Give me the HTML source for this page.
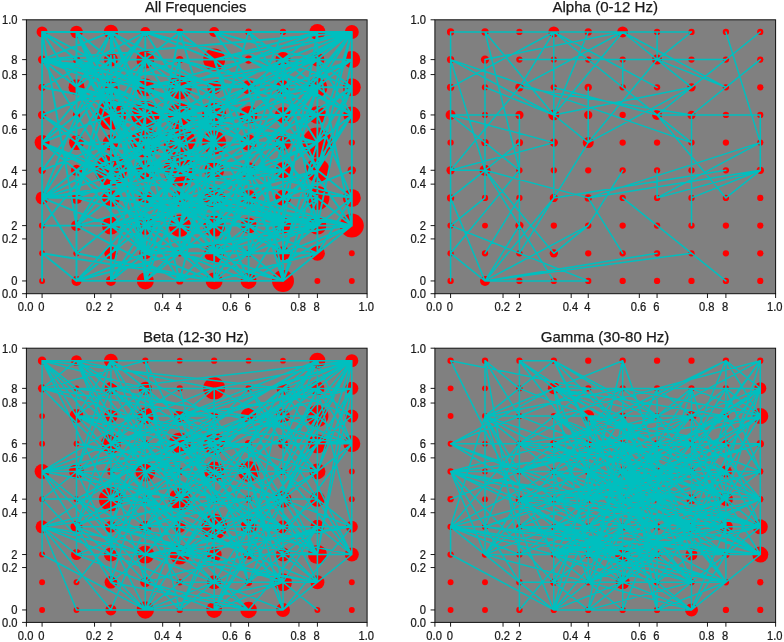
<!DOCTYPE html><html><head><meta charset="utf-8"><style>html,body{margin:0;padding:0;background:#fff;}svg{display:block;filter:blur(0.3px);}text{font-family:"Liberation Sans",sans-serif;fill:#1a1a1a;stroke:#1a1a1a;stroke-width:0.25px;}</style></head><body>
<svg width="784" height="642" viewBox="0 0 784 642">
<rect x="26.40" y="19.80" width="340.70" height="273.90" fill="#808080"/>
<clipPath id="cTL"><rect x="26.40" y="19.80" width="340.70" height="273.90"/></clipPath>
<g clip-path="url(#cTL)">
<circle cx="42.09" cy="31.95" r="5.50" fill="#ff0000"/>
<circle cx="76.50" cy="31.95" r="6.30" fill="#ff0000"/>
<circle cx="110.91" cy="31.95" r="7.20" fill="#ff0000"/>
<circle cx="145.33" cy="31.95" r="5.00" fill="#ff0000"/>
<circle cx="179.74" cy="31.95" r="3.35" fill="#ff0000"/>
<circle cx="214.16" cy="31.95" r="5.00" fill="#ff0000"/>
<circle cx="248.57" cy="31.95" r="3.35" fill="#ff0000"/>
<circle cx="282.99" cy="31.95" r="3.15" fill="#ff0000"/>
<circle cx="317.40" cy="31.95" r="8.00" fill="#ff0000"/>
<circle cx="351.81" cy="31.95" r="7.00" fill="#ff0000"/>
<circle cx="42.09" cy="59.62" r="4.15" fill="#ff0000"/>
<circle cx="76.50" cy="59.62" r="3.65" fill="#ff0000"/>
<circle cx="110.91" cy="59.62" r="7.00" fill="#ff0000"/>
<circle cx="145.33" cy="59.62" r="9.00" fill="#ff0000"/>
<circle cx="179.74" cy="59.62" r="3.65" fill="#ff0000"/>
<circle cx="214.16" cy="59.62" r="11.00" fill="#ff0000"/>
<circle cx="248.57" cy="59.62" r="4.15" fill="#ff0000"/>
<circle cx="282.99" cy="59.62" r="7.50" fill="#ff0000"/>
<circle cx="317.40" cy="59.62" r="7.00" fill="#ff0000"/>
<circle cx="351.81" cy="59.62" r="8.50" fill="#ff0000"/>
<circle cx="42.09" cy="87.28" r="3.65" fill="#ff0000"/>
<circle cx="76.50" cy="87.28" r="8.00" fill="#ff0000"/>
<circle cx="110.91" cy="87.28" r="8.00" fill="#ff0000"/>
<circle cx="145.33" cy="87.28" r="9.00" fill="#ff0000"/>
<circle cx="179.74" cy="87.28" r="12.00" fill="#ff0000"/>
<circle cx="214.16" cy="87.28" r="7.00" fill="#ff0000"/>
<circle cx="248.57" cy="87.28" r="7.00" fill="#ff0000"/>
<circle cx="282.99" cy="87.28" r="7.00" fill="#ff0000"/>
<circle cx="317.40" cy="87.28" r="10.00" fill="#ff0000"/>
<circle cx="351.81" cy="87.28" r="9.00" fill="#ff0000"/>
<circle cx="42.09" cy="114.95" r="4.15" fill="#ff0000"/>
<circle cx="76.50" cy="114.95" r="3.65" fill="#ff0000"/>
<circle cx="110.91" cy="114.95" r="15.00" fill="#ff0000"/>
<circle cx="145.33" cy="114.95" r="14.00" fill="#ff0000"/>
<circle cx="179.74" cy="114.95" r="12.00" fill="#ff0000"/>
<circle cx="214.16" cy="114.95" r="12.00" fill="#ff0000"/>
<circle cx="248.57" cy="114.95" r="9.00" fill="#ff0000"/>
<circle cx="282.99" cy="114.95" r="8.00" fill="#ff0000"/>
<circle cx="317.40" cy="114.95" r="9.00" fill="#ff0000"/>
<circle cx="351.81" cy="114.95" r="8.50" fill="#ff0000"/>
<circle cx="42.09" cy="142.62" r="7.50" fill="#ff0000"/>
<circle cx="76.50" cy="142.62" r="7.50" fill="#ff0000"/>
<circle cx="110.91" cy="142.62" r="8.00" fill="#ff0000"/>
<circle cx="145.33" cy="142.62" r="15.00" fill="#ff0000"/>
<circle cx="179.74" cy="142.62" r="16.00" fill="#ff0000"/>
<circle cx="214.16" cy="142.62" r="12.00" fill="#ff0000"/>
<circle cx="248.57" cy="142.62" r="8.00" fill="#ff0000"/>
<circle cx="282.99" cy="142.62" r="8.00" fill="#ff0000"/>
<circle cx="317.40" cy="142.62" r="15.00" fill="#ff0000"/>
<circle cx="351.81" cy="142.62" r="3.15" fill="#ff0000"/>
<circle cx="42.09" cy="170.28" r="3.65" fill="#ff0000"/>
<circle cx="76.50" cy="170.28" r="5.50" fill="#ff0000"/>
<circle cx="110.91" cy="170.28" r="16.00" fill="#ff0000"/>
<circle cx="145.33" cy="170.28" r="10.00" fill="#ff0000"/>
<circle cx="179.74" cy="170.28" r="16.00" fill="#ff0000"/>
<circle cx="214.16" cy="170.28" r="10.00" fill="#ff0000"/>
<circle cx="248.57" cy="170.28" r="8.00" fill="#ff0000"/>
<circle cx="282.99" cy="170.28" r="8.00" fill="#ff0000"/>
<circle cx="317.40" cy="170.28" r="12.00" fill="#ff0000"/>
<circle cx="351.81" cy="170.28" r="4.15" fill="#ff0000"/>
<circle cx="42.09" cy="197.95" r="6.50" fill="#ff0000"/>
<circle cx="76.50" cy="197.95" r="6.00" fill="#ff0000"/>
<circle cx="110.91" cy="197.95" r="9.00" fill="#ff0000"/>
<circle cx="145.33" cy="197.95" r="7.00" fill="#ff0000"/>
<circle cx="179.74" cy="197.95" r="8.00" fill="#ff0000"/>
<circle cx="214.16" cy="197.95" r="11.00" fill="#ff0000"/>
<circle cx="248.57" cy="197.95" r="8.00" fill="#ff0000"/>
<circle cx="282.99" cy="197.95" r="8.00" fill="#ff0000"/>
<circle cx="317.40" cy="197.95" r="12.00" fill="#ff0000"/>
<circle cx="351.81" cy="197.95" r="9.00" fill="#ff0000"/>
<circle cx="42.09" cy="225.62" r="3.15" fill="#ff0000"/>
<circle cx="76.50" cy="225.62" r="5.50" fill="#ff0000"/>
<circle cx="110.91" cy="225.62" r="9.00" fill="#ff0000"/>
<circle cx="145.33" cy="225.62" r="9.50" fill="#ff0000"/>
<circle cx="179.74" cy="225.62" r="11.00" fill="#ff0000"/>
<circle cx="214.16" cy="225.62" r="11.00" fill="#ff0000"/>
<circle cx="248.57" cy="225.62" r="8.00" fill="#ff0000"/>
<circle cx="282.99" cy="225.62" r="8.00" fill="#ff0000"/>
<circle cx="317.40" cy="225.62" r="9.00" fill="#ff0000"/>
<circle cx="351.81" cy="225.62" r="12.00" fill="#ff0000"/>
<circle cx="42.09" cy="253.28" r="2.95" fill="#ff0000"/>
<circle cx="76.50" cy="253.28" r="3.15" fill="#ff0000"/>
<circle cx="110.91" cy="253.28" r="6.50" fill="#ff0000"/>
<circle cx="145.33" cy="253.28" r="6.00" fill="#ff0000"/>
<circle cx="179.74" cy="253.28" r="3.15" fill="#ff0000"/>
<circle cx="214.16" cy="253.28" r="10.00" fill="#ff0000"/>
<circle cx="248.57" cy="253.28" r="3.65" fill="#ff0000"/>
<circle cx="282.99" cy="253.28" r="7.00" fill="#ff0000"/>
<circle cx="317.40" cy="253.28" r="7.50" fill="#ff0000"/>
<circle cx="351.81" cy="253.28" r="2.95" fill="#ff0000"/>
<circle cx="42.09" cy="280.95" r="2.95" fill="#ff0000"/>
<circle cx="76.50" cy="280.95" r="5.00" fill="#ff0000"/>
<circle cx="110.91" cy="280.95" r="5.00" fill="#ff0000"/>
<circle cx="145.33" cy="280.95" r="8.50" fill="#ff0000"/>
<circle cx="179.74" cy="280.95" r="3.65" fill="#ff0000"/>
<circle cx="214.16" cy="280.95" r="8.50" fill="#ff0000"/>
<circle cx="248.57" cy="280.95" r="8.00" fill="#ff0000"/>
<circle cx="282.99" cy="280.95" r="11.00" fill="#ff0000"/>
<circle cx="317.40" cy="280.95" r="2.95" fill="#ff0000"/>
<circle cx="351.81" cy="280.95" r="2.95" fill="#ff0000"/>
<path d="M145.3 197.9L179.7 32.0M283.0 225.6L317.4 225.6M179.7 253.3L283.0 280.9M110.9 115.0L145.3 59.6M76.5 59.6L214.2 115.0M283.0 59.6L317.4 32.0M76.5 115.0L145.3 32.0M76.5 87.3L145.3 253.3M317.4 59.6L351.8 32.0M76.5 225.6L179.7 280.9M145.3 225.6L179.7 225.6M76.5 280.9L179.7 197.9M214.2 142.6L248.6 142.6M248.6 142.6L351.8 225.6M283.0 87.3L317.4 115.0M317.4 225.6L317.4 170.3M179.7 142.6L179.7 59.6M145.3 115.0L179.7 115.0M110.9 225.6L248.6 197.9M76.5 87.3L76.5 32.0M317.4 115.0L317.4 59.6M145.3 197.9L145.3 170.3M76.5 225.6L145.3 142.6M76.5 225.6L110.9 197.9M248.6 142.6L283.0 142.6M179.7 170.3L179.7 115.0M214.2 197.9L248.6 170.3M76.5 32.0L145.3 170.3M214.2 115.0L283.0 59.6M179.7 59.6L283.0 87.3M214.2 253.3L317.4 170.3M145.3 280.9L179.7 142.6M110.9 197.9L110.9 87.3M110.9 142.6L145.3 253.3M351.8 115.0L351.8 32.0M145.3 170.3L351.8 197.9M214.2 280.9L214.2 253.3M351.8 87.3L351.8 32.0M317.4 59.6L351.8 87.3M283.0 170.3L317.4 87.3M110.9 59.6L110.9 32.0M248.6 115.0L317.4 87.3M283.0 170.3L283.0 142.6M214.2 170.3L248.6 170.3M42.1 115.0L110.9 87.3M42.1 59.6L248.6 87.3M76.5 87.3L110.9 142.6M145.3 280.9L214.2 225.6M214.2 59.6L248.6 59.6M110.9 197.9L145.3 225.6M42.1 87.3L317.4 142.6M248.6 142.6L317.4 142.6M248.6 170.3L351.8 32.0M179.7 280.9L214.2 142.6M76.5 32.0L351.8 32.0M283.0 253.3L351.8 32.0M110.9 280.9L110.9 253.3M145.3 280.9L179.7 197.9M317.4 225.6L317.4 115.0M179.7 225.6L248.6 253.3M248.6 142.6L351.8 59.6M42.1 197.9L283.0 170.3M283.0 197.9L317.4 87.3M42.1 87.3L145.3 32.0M283.0 197.9L283.0 142.6M110.9 59.6L248.6 59.6M76.5 59.6L214.2 253.3M42.1 142.6L179.7 87.3M145.3 115.0L145.3 87.3M248.6 59.6L351.8 32.0M145.3 170.3L351.8 32.0M76.5 87.3L145.3 142.6M42.1 59.6L248.6 142.6M214.2 142.6L248.6 32.0M283.0 253.3L317.4 170.3M42.1 225.6L110.9 142.6M214.2 142.6L214.2 87.3M283.0 87.3L283.0 59.6M110.9 225.6L179.7 225.6M248.6 115.0L351.8 59.6M145.3 197.9L248.6 197.9M42.1 142.6L214.2 280.9M248.6 225.6L317.4 253.3M145.3 142.6L145.3 32.0M214.2 225.6L317.4 225.6M214.2 115.0L214.2 87.3M214.2 225.6L283.0 280.9M76.5 197.9L110.9 59.6M145.3 170.3L145.3 115.0M42.1 280.9L42.1 32.0M283.0 280.9L317.4 253.3M145.3 253.3L351.8 170.3M214.2 253.3L283.0 225.6M76.5 197.9L179.7 225.6M179.7 142.6L214.2 142.6M214.2 32.0L283.0 32.0M42.1 32.0L248.6 142.6M214.2 59.6L248.6 170.3M145.3 142.6L248.6 115.0M42.1 197.9L248.6 197.9M76.5 280.9L179.7 253.3M214.2 59.6L317.4 32.0M42.1 115.0L179.7 197.9M317.4 142.6L317.4 87.3M179.7 253.3L214.2 253.3M179.7 115.0L317.4 59.6M76.5 170.3L145.3 253.3M42.1 32.0L76.5 32.0M110.9 253.3L179.7 170.3M145.3 253.3L351.8 225.6M76.5 253.3L214.2 280.9M179.7 225.6L214.2 253.3M317.4 170.3L351.8 197.9M145.3 142.6L179.7 142.6M248.6 197.9L317.4 170.3M110.9 225.6L214.2 197.9M76.5 87.3L110.9 32.0M110.9 225.6L145.3 253.3M214.2 197.9L248.6 225.6M214.2 253.3L317.4 225.6M248.6 280.9L248.6 225.6M179.7 87.3L317.4 59.6M145.3 59.6L214.2 87.3M214.2 197.9L317.4 87.3M110.9 170.3L214.2 115.0M110.9 170.3L145.3 170.3M110.9 32.0L145.3 280.9M110.9 59.6L145.3 59.6M110.9 142.6L110.9 32.0M248.6 170.3L283.0 225.6M145.3 59.6L179.7 59.6M283.0 115.0L351.8 32.0M76.5 32.0L110.9 59.6M214.2 225.6L248.6 253.3M145.3 225.6L145.3 197.9M214.2 253.3L283.0 59.6M42.1 59.6L145.3 142.6M214.2 170.3L283.0 142.6M317.4 170.3L351.8 32.0M179.7 115.0L179.7 59.6M145.3 253.3L283.0 197.9M179.7 32.0L214.2 59.6M248.6 253.3L283.0 142.6M110.9 87.3L214.2 142.6M110.9 32.0L145.3 59.6M283.0 115.0L317.4 170.3M214.2 280.9L317.4 197.9M76.5 280.9L110.9 280.9M179.7 115.0L214.2 253.3M42.1 253.3L214.2 280.9M110.9 253.3L110.9 197.9M42.1 197.9L214.2 142.6M179.7 253.3L179.7 225.6M145.3 59.6L179.7 115.0M145.3 225.6L317.4 142.6M351.8 225.6L351.8 32.0M42.1 142.6L110.9 59.6M317.4 170.3L351.8 87.3M179.7 225.6L214.2 142.6M283.0 197.9L317.4 225.6M145.3 225.6L351.8 59.6M214.2 225.6L351.8 225.6M145.3 197.9L214.2 197.9M110.9 142.6L248.6 115.0M317.4 253.3L351.8 225.6M110.9 225.6L110.9 197.9M110.9 142.6L145.3 225.6M110.9 87.3L145.3 253.3M214.2 225.6L248.6 197.9M214.2 280.9L317.4 253.3M179.7 170.3L248.6 225.6M179.7 59.6L317.4 115.0M248.6 87.3L317.4 87.3M42.1 225.6L145.3 225.6M283.0 253.3L283.0 59.6M145.3 142.6L351.8 197.9M145.3 142.6L214.2 115.0M110.9 87.3L179.7 170.3M145.3 170.3L248.6 142.6M179.7 197.9L317.4 225.6M179.7 197.9L283.0 280.9M179.7 170.3L283.0 142.6M214.2 59.6L351.8 32.0M42.1 59.6L317.4 142.6M76.5 280.9L76.5 197.9M351.8 225.6L351.8 87.3M42.1 142.6L145.3 59.6M317.4 225.6L351.8 225.6M179.7 253.3L214.2 197.9M42.1 142.6L110.9 115.0M214.2 170.3L248.6 115.0M179.7 225.6L214.2 197.9M317.4 115.0L351.8 115.0M145.3 142.6L179.7 87.3M42.1 59.6L351.8 59.6M110.9 225.6L145.3 197.9M214.2 197.9L283.0 225.6M42.1 59.6L110.9 87.3M76.5 280.9L283.0 280.9M283.0 59.6L317.4 225.6M214.2 280.9L248.6 225.6M317.4 59.6L351.8 225.6M248.6 197.9L248.6 142.6M317.4 32.0L351.8 32.0M248.6 280.9L283.0 225.6M214.2 32.0L351.8 32.0M42.1 142.6L110.9 170.3M145.3 253.3L179.7 197.9M317.4 253.3L317.4 142.6M145.3 225.6L248.6 170.3M145.3 225.6L214.2 225.6M214.2 253.3L248.6 197.9M317.4 87.3L351.8 115.0M179.7 115.0L248.6 87.3M283.0 142.6L317.4 142.6M179.7 115.0L214.2 142.6M179.7 253.3L283.0 253.3M42.1 32.0L145.3 32.0M42.1 32.0L110.9 87.3M145.3 87.3L248.6 59.6M248.6 59.6L351.8 115.0M214.2 59.6L283.0 115.0M283.0 253.3L317.4 253.3M214.2 197.9L317.4 225.6M42.1 59.6L145.3 87.3M145.3 142.6L145.3 115.0M179.7 87.3L248.6 87.3M179.7 87.3L214.2 142.6M110.9 170.3L110.9 59.6M110.9 32.0L145.3 115.0M283.0 280.9L317.4 197.9M283.0 280.9L283.0 253.3M317.4 225.6L351.8 59.6M76.5 32.0L145.3 142.6M179.7 170.3L248.6 115.0M76.5 87.3L145.3 170.3M214.2 142.6L214.2 115.0M110.9 197.9L110.9 59.6M145.3 197.9L351.8 225.6M317.4 115.0L317.4 87.3M110.9 197.9L283.0 225.6M179.7 197.9L283.0 170.3M76.5 142.6L110.9 170.3M145.3 280.9L283.0 280.9M248.6 253.3L283.0 280.9M283.0 59.6L317.4 59.6M42.1 197.9L145.3 142.6M145.3 170.3L145.3 142.6M42.1 197.9L110.9 197.9M283.0 253.3L351.8 225.6M179.7 170.3L179.7 142.6M42.1 142.6L42.1 59.6M283.0 115.0L283.0 59.6M179.7 225.6L214.2 87.3M76.5 253.3L110.9 225.6M145.3 253.3L145.3 170.3M110.9 170.3L145.3 59.6M110.9 170.3L110.9 115.0M145.3 170.3L179.7 59.6M145.3 87.3L248.6 170.3M248.6 142.6L317.4 115.0M76.5 32.0L145.3 197.9M76.5 115.0L110.9 170.3M42.1 59.6L42.1 32.0M214.2 225.6L214.2 197.9M248.6 87.3L317.4 32.0M283.0 225.6L351.8 225.6M248.6 87.3L283.0 87.3M145.3 197.9L179.7 115.0M76.5 197.9L214.2 142.6M145.3 87.3L283.0 87.3M110.9 197.9L110.9 115.0M110.9 87.3L110.9 32.0M110.9 142.6L179.7 87.3M248.6 59.6L317.4 87.3M145.3 225.6L214.2 115.0M283.0 59.6L351.8 32.0M214.2 253.3L214.2 142.6M42.1 197.9L76.5 115.0M317.4 142.6L351.8 32.0M248.6 115.0L283.0 32.0M145.3 253.3L214.2 280.9M145.3 115.0L145.3 59.6M214.2 115.0L283.0 142.6M248.6 197.9L351.8 225.6M179.7 197.9L248.6 197.9M42.1 142.6L42.1 115.0M248.6 280.9L248.6 253.3M179.7 197.9L351.8 87.3M179.7 87.3L283.0 253.3M110.9 280.9L145.3 225.6M76.5 87.3L145.3 115.0M42.1 197.9L110.9 32.0M110.9 197.9L145.3 253.3M42.1 170.3L179.7 115.0M214.2 280.9L248.6 170.3M179.7 170.3L317.4 225.6M145.3 253.3L179.7 253.3M42.1 32.0L76.5 225.6M248.6 115.0L283.0 225.6M42.1 142.6L145.3 197.9M76.5 142.6L283.0 170.3M145.3 225.6L214.2 280.9M179.7 225.6L248.6 280.9M76.5 32.0L145.3 32.0M145.3 142.6L179.7 225.6M283.0 59.6L351.8 87.3M214.2 59.6L248.6 142.6M42.1 197.9L76.5 170.3M76.5 115.0L76.5 87.3M317.4 142.6L351.8 87.3M283.0 225.6L283.0 197.9M110.9 142.6L145.3 115.0M214.2 170.3L283.0 170.3M110.9 280.9L145.3 280.9M76.5 170.3L110.9 142.6M76.5 225.6L179.7 197.9M42.1 197.9L42.1 142.6M214.2 197.9L317.4 170.3M248.6 32.0L317.4 142.6M145.3 142.6L145.3 59.6M145.3 115.0L214.2 115.0M110.9 280.9L179.7 197.9M110.9 115.0L110.9 87.3M110.9 87.3L179.7 142.6M42.1 197.9L214.2 170.3M76.5 32.0L145.3 87.3M179.7 115.0L317.4 87.3M283.0 87.3L317.4 87.3M214.2 142.6L248.6 115.0M145.3 197.9L214.2 225.6M317.4 59.6L351.8 115.0M76.5 225.6L110.9 170.3M317.4 142.6L317.4 115.0M283.0 170.3L283.0 59.6M179.7 197.9L214.2 142.6M145.3 253.3L145.3 225.6M145.3 142.6L179.7 170.3M179.7 142.6L214.2 115.0M76.5 87.3L110.9 59.6M145.3 197.9L179.7 197.9M110.9 32.0L179.7 170.3M42.1 59.6L110.9 32.0M317.4 87.3L317.4 32.0M214.2 225.6L317.4 87.3M145.3 253.3L179.7 142.6M214.2 32.0L317.4 59.6M283.0 87.3L317.4 142.6M179.7 142.6L179.7 87.3M179.7 225.6L214.2 225.6M110.9 115.0L214.2 225.6M76.5 225.6L214.2 115.0M110.9 170.3L145.3 197.9M145.3 170.3L179.7 197.9M283.0 87.3L351.8 59.6M42.1 32.0L110.9 32.0M283.0 225.6L317.4 32.0M110.9 115.0L317.4 32.0M145.3 59.6L248.6 115.0M145.3 32.0L248.6 59.6M317.4 225.6L317.4 87.3M110.9 197.9L145.3 197.9M179.7 59.6L248.6 87.3M214.2 142.6L317.4 225.6M76.5 32.0L214.2 32.0M179.7 87.3L248.6 59.6M145.3 170.3L283.0 253.3M145.3 142.6L179.7 280.9M110.9 197.9L179.7 115.0M110.9 225.6L248.6 280.9M76.5 87.3L110.9 170.3M76.5 280.9L145.3 253.3M317.4 115.0L351.8 197.9M145.3 253.3L145.3 59.6M283.0 142.6L351.8 87.3M214.2 170.3L283.0 225.6M145.3 253.3L317.4 225.6M110.9 142.6L145.3 59.6M179.7 32.0L214.2 142.6M214.2 32.0L351.8 225.6M179.7 87.3L248.6 115.0M110.9 32.0L214.2 87.3M179.7 170.3L283.0 115.0M76.5 280.9L179.7 170.3M248.6 142.6L283.0 115.0M145.3 225.6L283.0 280.9M110.9 32.0L351.8 225.6M76.5 197.9L76.5 170.3M42.1 32.0L283.0 32.0M42.1 197.9L110.9 225.6M179.7 115.0L283.0 87.3M110.9 280.9L145.3 115.0M145.3 142.6L214.2 253.3M110.9 142.6L283.0 59.6M110.9 170.3L248.6 87.3M42.1 115.0L76.5 142.6M283.0 115.0L283.0 87.3M76.5 197.9L110.9 87.3M145.3 32.0L317.4 32.0M283.0 142.6L317.4 115.0M110.9 115.0L145.3 170.3M76.5 170.3L179.7 142.6M317.4 142.6L351.8 115.0M145.3 142.6L283.0 115.0M248.6 115.0L283.0 115.0M317.4 170.3L317.4 32.0M110.9 197.9L248.6 87.3M110.9 197.9L214.2 142.6M179.7 197.9L214.2 87.3M179.7 87.3L317.4 32.0M110.9 115.0L179.7 87.3M42.1 59.6L145.3 59.6M179.7 170.3L283.0 225.6M317.4 87.3L351.8 32.0M214.2 225.6L283.0 87.3M145.3 59.6L179.7 32.0M179.7 225.6L248.6 225.6M145.3 253.3L248.6 253.3M76.5 32.0L110.9 32.0M179.7 280.9L317.4 225.6M351.8 87.3L351.8 59.6M214.2 142.6L351.8 32.0M283.0 225.6L283.0 142.6M42.1 59.6L110.9 170.3M214.2 115.0L351.8 32.0M248.6 170.3L317.4 142.6M76.5 142.6L110.9 142.6M248.6 87.3L283.0 280.9M145.3 87.3L145.3 59.6M110.9 32.0L145.3 32.0M110.9 225.6L179.7 197.9M317.4 253.3L317.4 225.6M248.6 32.0L317.4 87.3M317.4 170.3L351.8 115.0M283.0 142.6L317.4 225.6M317.4 87.3L351.8 87.3M248.6 253.3L351.8 115.0M214.2 253.3L214.2 225.6M110.9 115.0L145.3 115.0M179.7 115.0L214.2 115.0M110.9 59.6L145.3 87.3M145.3 87.3L214.2 197.9M179.7 197.9L248.6 280.9M76.5 197.9L179.7 197.9M145.3 225.6L179.7 280.9M317.4 59.6L317.4 32.0M179.7 170.3L248.6 142.6M179.7 115.0L179.7 87.3M76.5 142.6L145.3 142.6M248.6 253.3L317.4 253.3M76.5 142.6L110.9 197.9M179.7 87.3L214.2 115.0M42.1 170.3L145.3 32.0M76.5 87.3L179.7 115.0M214.2 197.9L351.8 225.6M42.1 59.6L179.7 87.3M145.3 32.0L179.7 87.3M248.6 225.6L248.6 197.9M283.0 280.9L317.4 170.3M248.6 197.9L317.4 142.6M248.6 280.9L351.8 225.6M145.3 280.9L145.3 142.6M110.9 197.9L110.9 142.6M76.5 142.6L214.2 280.9M317.4 253.3L351.8 197.9M145.3 170.3L214.2 170.3M179.7 253.3L214.2 170.3M248.6 87.3L317.4 59.6M145.3 59.6L214.2 59.6M42.1 253.3L76.5 280.9M145.3 225.6L248.6 197.9M42.1 32.0L76.5 87.3M145.3 87.3L317.4 59.6M179.7 225.6L214.2 170.3M110.9 170.3L214.2 87.3M110.9 142.6L179.7 115.0M76.5 142.6L76.5 115.0M110.9 32.0L317.4 32.0M145.3 280.9L214.2 280.9M179.7 280.9L283.0 170.3M42.1 197.9L76.5 142.6M42.1 59.6L351.8 32.0M76.5 170.3L179.7 87.3M317.4 170.3L317.4 87.3M317.4 225.6L351.8 197.9M214.2 197.9L248.6 280.9M248.6 197.9L248.6 115.0M110.9 280.9L214.2 197.9M76.5 225.6L283.0 59.6M145.3 280.9L283.0 142.6M76.5 59.6L110.9 115.0M110.9 115.0L179.7 142.6M283.0 87.3L317.4 170.3M145.3 32.0L214.2 59.6M214.2 32.0L351.8 115.0M248.6 87.3L351.8 32.0M283.0 170.3L317.4 197.9M110.9 115.0L110.9 59.6M248.6 115.0L317.4 197.9M145.3 142.6L283.0 253.3M145.3 197.9L317.4 225.6M248.6 170.3L283.0 280.9M110.9 197.9L248.6 225.6M110.9 197.9L214.2 280.9M283.0 253.3L317.4 225.6M42.1 32.0L145.3 115.0M248.6 115.0L351.8 115.0M248.6 225.6L283.0 225.6M42.1 142.6L214.2 225.6M42.1 115.0L179.7 59.6M76.5 142.6L145.3 32.0M145.3 280.9L317.4 142.6M76.5 142.6L110.9 87.3M110.9 170.3L248.6 280.9M317.4 253.3L317.4 170.3M42.1 197.9L42.1 170.3M110.9 142.6L179.7 225.6M283.0 197.9L317.4 197.9M42.1 197.9L76.5 253.3M42.1 32.0L248.6 197.9" stroke="#00bfbf" stroke-width="1.9" fill="none" stroke-linecap="round"/>
</g>
<rect x="26.40" y="19.80" width="340.70" height="273.90" fill="none" stroke="#111" stroke-width="1.0"/>
<path d="M26.40 293.70v4.3M26.40 293.70h-4.3M94.54 293.70v4.3M26.40 238.92h-4.3M162.68 293.70v4.3M26.40 184.14h-4.3M230.82 293.70v4.3M26.40 129.36h-4.3M298.96 293.70v4.3M26.40 74.58h-4.3M367.10 293.70v4.3M26.40 19.80h-4.3M42.09 293.70v4.3M26.40 280.95h-4.3M110.91 293.70v4.3M26.40 225.62h-4.3M179.74 293.70v4.3M26.40 170.28h-4.3M248.57 293.70v4.3M26.40 114.95h-4.3M317.40 293.70v4.3M26.40 59.62h-4.3" stroke="#000" stroke-width="0.9"/>
<text transform="translate(25.60,311.00) scale(0.93,1)" font-size="12.0" text-anchor="middle">0.0</text>
<text transform="translate(17.50,298.00) scale(0.93,1)" font-size="12.0" text-anchor="end">0.0</text>
<text transform="translate(93.74,311.00) scale(0.93,1)" font-size="12.0" text-anchor="middle">0.2</text>
<text transform="translate(17.50,243.22) scale(0.93,1)" font-size="12.0" text-anchor="end">0.2</text>
<text transform="translate(161.88,311.00) scale(0.93,1)" font-size="12.0" text-anchor="middle">0.4</text>
<text transform="translate(17.50,188.44) scale(0.93,1)" font-size="12.0" text-anchor="end">0.4</text>
<text transform="translate(230.02,311.00) scale(0.93,1)" font-size="12.0" text-anchor="middle">0.6</text>
<text transform="translate(17.50,133.66) scale(0.93,1)" font-size="12.0" text-anchor="end">0.6</text>
<text transform="translate(298.16,311.00) scale(0.93,1)" font-size="12.0" text-anchor="middle">0.8</text>
<text transform="translate(17.50,78.88) scale(0.93,1)" font-size="12.0" text-anchor="end">0.8</text>
<text transform="translate(366.30,311.00) scale(0.93,1)" font-size="12.0" text-anchor="middle">1.0</text>
<text transform="translate(17.50,24.10) scale(0.93,1)" font-size="12.0" text-anchor="end">1.0</text>
<text transform="translate(41.29,311.00) scale(0.93,1)" font-size="12.0" text-anchor="middle">0</text>
<text transform="translate(17.50,285.25) scale(0.93,1)" font-size="12.0" text-anchor="end">0</text>
<text transform="translate(110.11,311.00) scale(0.93,1)" font-size="12.0" text-anchor="middle">2</text>
<text transform="translate(17.50,229.92) scale(0.93,1)" font-size="12.0" text-anchor="end">2</text>
<text transform="translate(178.94,311.00) scale(0.93,1)" font-size="12.0" text-anchor="middle">4</text>
<text transform="translate(17.50,174.58) scale(0.93,1)" font-size="12.0" text-anchor="end">4</text>
<text transform="translate(247.77,311.00) scale(0.93,1)" font-size="12.0" text-anchor="middle">6</text>
<text transform="translate(17.50,119.25) scale(0.93,1)" font-size="12.0" text-anchor="end">6</text>
<text transform="translate(316.60,311.00) scale(0.93,1)" font-size="12.0" text-anchor="middle">8</text>
<text transform="translate(17.50,63.92) scale(0.93,1)" font-size="12.0" text-anchor="end">8</text>
<text x="195.65" y="11.50" font-size="14.7" text-anchor="middle" textLength="101.5" lengthAdjust="spacingAndGlyphs">All Frequencies</text>
<rect x="434.90" y="19.80" width="340.70" height="273.90" fill="#808080"/>
<clipPath id="cTR"><rect x="434.90" y="19.80" width="340.70" height="273.90"/></clipPath>
<g clip-path="url(#cTR)">
<circle cx="450.59" cy="31.95" r="3.65" fill="#ff0000"/>
<circle cx="485.00" cy="31.95" r="3.65" fill="#ff0000"/>
<circle cx="519.41" cy="31.95" r="3.15" fill="#ff0000"/>
<circle cx="553.83" cy="31.95" r="5.50" fill="#ff0000"/>
<circle cx="588.24" cy="31.95" r="3.65" fill="#ff0000"/>
<circle cx="622.66" cy="31.95" r="5.50" fill="#ff0000"/>
<circle cx="657.07" cy="31.95" r="3.15" fill="#ff0000"/>
<circle cx="691.49" cy="31.95" r="3.15" fill="#ff0000"/>
<circle cx="725.90" cy="31.95" r="3.15" fill="#ff0000"/>
<circle cx="760.31" cy="31.95" r="3.15" fill="#ff0000"/>
<circle cx="450.59" cy="59.62" r="3.65" fill="#ff0000"/>
<circle cx="485.00" cy="59.62" r="4.15" fill="#ff0000"/>
<circle cx="519.41" cy="59.62" r="3.15" fill="#ff0000"/>
<circle cx="553.83" cy="59.62" r="3.15" fill="#ff0000"/>
<circle cx="588.24" cy="59.62" r="3.15" fill="#ff0000"/>
<circle cx="622.66" cy="59.62" r="3.15" fill="#ff0000"/>
<circle cx="657.07" cy="59.62" r="5.00" fill="#ff0000"/>
<circle cx="691.49" cy="59.62" r="3.15" fill="#ff0000"/>
<circle cx="725.90" cy="59.62" r="3.15" fill="#ff0000"/>
<circle cx="760.31" cy="59.62" r="3.15" fill="#ff0000"/>
<circle cx="450.59" cy="87.28" r="3.65" fill="#ff0000"/>
<circle cx="485.00" cy="87.28" r="3.15" fill="#ff0000"/>
<circle cx="519.41" cy="87.28" r="4.15" fill="#ff0000"/>
<circle cx="553.83" cy="87.28" r="3.15" fill="#ff0000"/>
<circle cx="588.24" cy="87.28" r="3.65" fill="#ff0000"/>
<circle cx="622.66" cy="87.28" r="3.15" fill="#ff0000"/>
<circle cx="657.07" cy="87.28" r="3.15" fill="#ff0000"/>
<circle cx="691.49" cy="87.28" r="4.15" fill="#ff0000"/>
<circle cx="725.90" cy="87.28" r="3.15" fill="#ff0000"/>
<circle cx="760.31" cy="87.28" r="3.15" fill="#ff0000"/>
<circle cx="450.59" cy="114.95" r="5.00" fill="#ff0000"/>
<circle cx="485.00" cy="114.95" r="3.15" fill="#ff0000"/>
<circle cx="519.41" cy="114.95" r="4.15" fill="#ff0000"/>
<circle cx="553.83" cy="114.95" r="5.50" fill="#ff0000"/>
<circle cx="588.24" cy="114.95" r="4.15" fill="#ff0000"/>
<circle cx="622.66" cy="114.95" r="3.15" fill="#ff0000"/>
<circle cx="657.07" cy="114.95" r="5.00" fill="#ff0000"/>
<circle cx="691.49" cy="114.95" r="4.15" fill="#ff0000"/>
<circle cx="725.90" cy="114.95" r="3.15" fill="#ff0000"/>
<circle cx="760.31" cy="114.95" r="3.15" fill="#ff0000"/>
<circle cx="450.59" cy="142.62" r="3.15" fill="#ff0000"/>
<circle cx="485.00" cy="142.62" r="3.65" fill="#ff0000"/>
<circle cx="519.41" cy="142.62" r="3.65" fill="#ff0000"/>
<circle cx="553.83" cy="142.62" r="4.15" fill="#ff0000"/>
<circle cx="588.24" cy="142.62" r="5.50" fill="#ff0000"/>
<circle cx="622.66" cy="142.62" r="3.15" fill="#ff0000"/>
<circle cx="657.07" cy="142.62" r="3.15" fill="#ff0000"/>
<circle cx="691.49" cy="142.62" r="3.15" fill="#ff0000"/>
<circle cx="725.90" cy="142.62" r="3.15" fill="#ff0000"/>
<circle cx="760.31" cy="142.62" r="3.15" fill="#ff0000"/>
<circle cx="450.59" cy="170.28" r="4.15" fill="#ff0000"/>
<circle cx="485.00" cy="170.28" r="5.50" fill="#ff0000"/>
<circle cx="519.41" cy="170.28" r="3.15" fill="#ff0000"/>
<circle cx="553.83" cy="170.28" r="3.15" fill="#ff0000"/>
<circle cx="588.24" cy="170.28" r="3.15" fill="#ff0000"/>
<circle cx="622.66" cy="170.28" r="3.15" fill="#ff0000"/>
<circle cx="657.07" cy="170.28" r="3.15" fill="#ff0000"/>
<circle cx="691.49" cy="170.28" r="3.15" fill="#ff0000"/>
<circle cx="725.90" cy="170.28" r="3.15" fill="#ff0000"/>
<circle cx="760.31" cy="170.28" r="3.65" fill="#ff0000"/>
<circle cx="450.59" cy="197.95" r="3.65" fill="#ff0000"/>
<circle cx="485.00" cy="197.95" r="3.15" fill="#ff0000"/>
<circle cx="519.41" cy="197.95" r="3.15" fill="#ff0000"/>
<circle cx="553.83" cy="197.95" r="4.15" fill="#ff0000"/>
<circle cx="588.24" cy="197.95" r="3.65" fill="#ff0000"/>
<circle cx="622.66" cy="197.95" r="3.15" fill="#ff0000"/>
<circle cx="657.07" cy="197.95" r="3.15" fill="#ff0000"/>
<circle cx="691.49" cy="197.95" r="3.15" fill="#ff0000"/>
<circle cx="725.90" cy="197.95" r="3.15" fill="#ff0000"/>
<circle cx="760.31" cy="197.95" r="3.15" fill="#ff0000"/>
<circle cx="450.59" cy="225.62" r="3.15" fill="#ff0000"/>
<circle cx="485.00" cy="225.62" r="2.95" fill="#ff0000"/>
<circle cx="519.41" cy="225.62" r="4.15" fill="#ff0000"/>
<circle cx="553.83" cy="225.62" r="3.15" fill="#ff0000"/>
<circle cx="588.24" cy="225.62" r="3.15" fill="#ff0000"/>
<circle cx="622.66" cy="225.62" r="3.15" fill="#ff0000"/>
<circle cx="657.07" cy="225.62" r="3.15" fill="#ff0000"/>
<circle cx="691.49" cy="225.62" r="3.15" fill="#ff0000"/>
<circle cx="725.90" cy="225.62" r="3.15" fill="#ff0000"/>
<circle cx="760.31" cy="225.62" r="3.15" fill="#ff0000"/>
<circle cx="450.59" cy="253.28" r="3.15" fill="#ff0000"/>
<circle cx="485.00" cy="253.28" r="3.15" fill="#ff0000"/>
<circle cx="519.41" cy="253.28" r="3.15" fill="#ff0000"/>
<circle cx="553.83" cy="253.28" r="4.15" fill="#ff0000"/>
<circle cx="588.24" cy="253.28" r="3.15" fill="#ff0000"/>
<circle cx="622.66" cy="253.28" r="3.15" fill="#ff0000"/>
<circle cx="657.07" cy="253.28" r="3.15" fill="#ff0000"/>
<circle cx="691.49" cy="253.28" r="3.15" fill="#ff0000"/>
<circle cx="725.90" cy="253.28" r="3.15" fill="#ff0000"/>
<circle cx="760.31" cy="253.28" r="3.15" fill="#ff0000"/>
<circle cx="450.59" cy="280.95" r="3.15" fill="#ff0000"/>
<circle cx="485.00" cy="280.95" r="5.00" fill="#ff0000"/>
<circle cx="519.41" cy="280.95" r="3.15" fill="#ff0000"/>
<circle cx="553.83" cy="280.95" r="3.15" fill="#ff0000"/>
<circle cx="588.24" cy="280.95" r="3.15" fill="#ff0000"/>
<circle cx="622.66" cy="280.95" r="3.15" fill="#ff0000"/>
<circle cx="657.07" cy="280.95" r="3.15" fill="#ff0000"/>
<circle cx="691.49" cy="280.95" r="3.15" fill="#ff0000"/>
<circle cx="725.90" cy="280.95" r="3.15" fill="#ff0000"/>
<circle cx="760.31" cy="280.95" r="3.15" fill="#ff0000"/>
<path d="M450.6 32.0L553.8 32.0M553.8 32.0L588.2 32.0M588.2 32.0L691.5 32.0M450.6 32.0L450.6 280.9M485.0 32.0L519.4 170.3M485.0 32.0L553.8 115.0M450.6 59.6L553.8 115.0M450.6 59.6L485.0 170.3M450.6 87.3L553.8 32.0M485.0 59.6L622.7 32.0M485.0 59.6L485.0 197.9M519.4 59.6L725.9 59.6M450.6 115.0L519.4 115.0M450.6 115.0L553.8 142.6M450.6 115.0L519.4 170.3M485.0 87.3L553.8 115.0M519.4 87.3L553.8 32.0M519.4 87.3L450.6 170.3M450.6 170.3L485.0 170.3M450.6 170.3L553.8 142.6M485.0 170.3L450.6 197.9M485.0 170.3L553.8 253.3M485.0 170.3L588.2 197.9M485.0 170.3L553.8 280.9M450.6 197.9L485.0 280.9M450.6 197.9L519.4 142.6M450.6 225.6L485.0 197.9M450.6 225.6L588.2 280.9M450.6 253.3L485.0 280.9M450.6 253.3L519.4 170.3M485.0 253.3L519.4 197.9M485.0 280.9L588.2 280.9M485.0 280.9L553.8 197.9M485.0 280.9L588.2 225.6M485.0 280.9L657.1 253.3M485.0 280.9L691.5 253.3M485.0 280.9L519.4 225.6M519.4 115.0L519.4 253.3M553.8 32.0L553.8 197.9M553.8 32.0L657.1 87.3M553.8 32.0L691.5 142.6M588.2 32.0L553.8 115.0M622.7 32.0L519.4 87.3M622.7 32.0L691.5 87.3M622.7 32.0L725.9 87.3M622.7 32.0L553.8 115.0M657.1 32.0L657.1 59.6M691.5 32.0L657.1 59.6M657.1 59.6L588.2 142.6M657.1 59.6L725.9 87.3M622.7 59.6L622.7 87.3M588.2 87.3L588.2 142.6M553.8 115.0L691.5 87.3M691.5 87.3L588.2 142.6M691.5 87.3L657.1 115.0M553.8 87.3L657.1 115.0M519.4 87.3L691.5 115.0M760.3 32.0L691.5 87.3M760.3 59.6L691.5 115.0M725.9 32.0L760.3 142.6M657.1 115.0L760.3 115.0M760.3 115.0L760.3 170.3M691.5 115.0L691.5 225.6M657.1 170.3L657.1 197.9M760.3 170.3L725.9 197.9M760.3 170.3L691.5 197.9M760.3 142.6L657.1 197.9M760.3 142.6L588.2 197.9M588.2 197.9L760.3 170.3M725.9 170.3L553.8 197.9M725.9 197.9L657.1 115.0M450.6 59.6L691.5 142.6M622.7 170.3L588.2 225.6M622.7 197.9L725.9 280.9M588.2 197.9L622.7 253.3M553.8 253.3L588.2 225.6M588.2 142.6L519.4 253.3M553.8 115.0L588.2 142.6M657.1 197.9L760.3 170.3" stroke="#00bfbf" stroke-width="1.5" fill="none" stroke-linecap="round"/>
</g>
<rect x="434.90" y="19.80" width="340.70" height="273.90" fill="none" stroke="#111" stroke-width="1.0"/>
<path d="M434.90 293.70v4.3M434.90 293.70h-4.3M503.04 293.70v4.3M434.90 238.92h-4.3M571.18 293.70v4.3M434.90 184.14h-4.3M639.32 293.70v4.3M434.90 129.36h-4.3M707.46 293.70v4.3M434.90 74.58h-4.3M775.60 293.70v4.3M434.90 19.80h-4.3M450.59 293.70v4.3M434.90 280.95h-4.3M519.41 293.70v4.3M434.90 225.62h-4.3M588.24 293.70v4.3M434.90 170.28h-4.3M657.07 293.70v4.3M434.90 114.95h-4.3M725.90 293.70v4.3M434.90 59.62h-4.3" stroke="#000" stroke-width="0.9"/>
<text transform="translate(434.10,311.00) scale(0.93,1)" font-size="12.0" text-anchor="middle">0.0</text>
<text transform="translate(426.00,298.00) scale(0.93,1)" font-size="12.0" text-anchor="end">0.0</text>
<text transform="translate(502.24,311.00) scale(0.93,1)" font-size="12.0" text-anchor="middle">0.2</text>
<text transform="translate(426.00,243.22) scale(0.93,1)" font-size="12.0" text-anchor="end">0.2</text>
<text transform="translate(570.38,311.00) scale(0.93,1)" font-size="12.0" text-anchor="middle">0.4</text>
<text transform="translate(426.00,188.44) scale(0.93,1)" font-size="12.0" text-anchor="end">0.4</text>
<text transform="translate(638.52,311.00) scale(0.93,1)" font-size="12.0" text-anchor="middle">0.6</text>
<text transform="translate(426.00,133.66) scale(0.93,1)" font-size="12.0" text-anchor="end">0.6</text>
<text transform="translate(706.66,311.00) scale(0.93,1)" font-size="12.0" text-anchor="middle">0.8</text>
<text transform="translate(426.00,78.88) scale(0.93,1)" font-size="12.0" text-anchor="end">0.8</text>
<text transform="translate(774.80,311.00) scale(0.93,1)" font-size="12.0" text-anchor="middle">1.0</text>
<text transform="translate(426.00,24.10) scale(0.93,1)" font-size="12.0" text-anchor="end">1.0</text>
<text transform="translate(449.79,311.00) scale(0.93,1)" font-size="12.0" text-anchor="middle">0</text>
<text transform="translate(426.00,285.25) scale(0.93,1)" font-size="12.0" text-anchor="end">0</text>
<text transform="translate(518.61,311.00) scale(0.93,1)" font-size="12.0" text-anchor="middle">2</text>
<text transform="translate(426.00,229.92) scale(0.93,1)" font-size="12.0" text-anchor="end">2</text>
<text transform="translate(587.44,311.00) scale(0.93,1)" font-size="12.0" text-anchor="middle">4</text>
<text transform="translate(426.00,174.58) scale(0.93,1)" font-size="12.0" text-anchor="end">4</text>
<text transform="translate(656.27,311.00) scale(0.93,1)" font-size="12.0" text-anchor="middle">6</text>
<text transform="translate(426.00,119.25) scale(0.93,1)" font-size="12.0" text-anchor="end">6</text>
<text transform="translate(725.10,311.00) scale(0.93,1)" font-size="12.0" text-anchor="middle">8</text>
<text transform="translate(426.00,63.92) scale(0.93,1)" font-size="12.0" text-anchor="end">8</text>
<text x="605.25" y="11.50" font-size="14.7" text-anchor="middle" textLength="105.6" lengthAdjust="spacingAndGlyphs">Alpha (0-12 Hz)</text>
<rect x="26.40" y="348.20" width="340.70" height="274.20" fill="#808080"/>
<clipPath id="cBL"><rect x="26.40" y="348.20" width="340.70" height="274.20"/></clipPath>
<g clip-path="url(#cBL)">
<circle cx="42.09" cy="360.66" r="4.25" fill="#ff0000"/>
<circle cx="76.50" cy="360.66" r="5.40" fill="#ff0000"/>
<circle cx="110.91" cy="360.66" r="7.00" fill="#ff0000"/>
<circle cx="145.33" cy="360.66" r="3.15" fill="#ff0000"/>
<circle cx="179.74" cy="360.66" r="2.95" fill="#ff0000"/>
<circle cx="214.16" cy="360.66" r="3.15" fill="#ff0000"/>
<circle cx="248.57" cy="360.66" r="2.95" fill="#ff0000"/>
<circle cx="282.99" cy="360.66" r="2.95" fill="#ff0000"/>
<circle cx="317.40" cy="360.66" r="8.00" fill="#ff0000"/>
<circle cx="351.81" cy="360.66" r="6.50" fill="#ff0000"/>
<circle cx="42.09" cy="388.36" r="4.15" fill="#ff0000"/>
<circle cx="76.50" cy="388.36" r="2.85" fill="#ff0000"/>
<circle cx="110.91" cy="388.36" r="6.30" fill="#ff0000"/>
<circle cx="145.33" cy="388.36" r="6.60" fill="#ff0000"/>
<circle cx="179.74" cy="388.36" r="3.15" fill="#ff0000"/>
<circle cx="214.16" cy="388.36" r="11.00" fill="#ff0000"/>
<circle cx="248.57" cy="388.36" r="3.15" fill="#ff0000"/>
<circle cx="282.99" cy="388.36" r="6.50" fill="#ff0000"/>
<circle cx="317.40" cy="388.36" r="7.00" fill="#ff0000"/>
<circle cx="351.81" cy="388.36" r="6.50" fill="#ff0000"/>
<circle cx="42.09" cy="416.06" r="2.85" fill="#ff0000"/>
<circle cx="76.50" cy="416.06" r="7.00" fill="#ff0000"/>
<circle cx="110.91" cy="416.06" r="6.60" fill="#ff0000"/>
<circle cx="145.33" cy="416.06" r="8.50" fill="#ff0000"/>
<circle cx="179.74" cy="416.06" r="6.00" fill="#ff0000"/>
<circle cx="214.16" cy="416.06" r="4.15" fill="#ff0000"/>
<circle cx="248.57" cy="416.06" r="8.00" fill="#ff0000"/>
<circle cx="282.99" cy="416.06" r="7.00" fill="#ff0000"/>
<circle cx="317.40" cy="416.06" r="11.00" fill="#ff0000"/>
<circle cx="351.81" cy="416.06" r="6.50" fill="#ff0000"/>
<circle cx="42.09" cy="443.75" r="2.95" fill="#ff0000"/>
<circle cx="76.50" cy="443.75" r="2.95" fill="#ff0000"/>
<circle cx="110.91" cy="443.75" r="10.00" fill="#ff0000"/>
<circle cx="145.33" cy="443.75" r="3.65" fill="#ff0000"/>
<circle cx="179.74" cy="443.75" r="11.00" fill="#ff0000"/>
<circle cx="214.16" cy="443.75" r="11.00" fill="#ff0000"/>
<circle cx="248.57" cy="443.75" r="3.65" fill="#ff0000"/>
<circle cx="282.99" cy="443.75" r="5.00" fill="#ff0000"/>
<circle cx="317.40" cy="443.75" r="9.50" fill="#ff0000"/>
<circle cx="351.81" cy="443.75" r="8.50" fill="#ff0000"/>
<circle cx="42.09" cy="471.45" r="7.50" fill="#ff0000"/>
<circle cx="76.50" cy="471.45" r="7.50" fill="#ff0000"/>
<circle cx="110.91" cy="471.45" r="3.65" fill="#ff0000"/>
<circle cx="145.33" cy="471.45" r="10.00" fill="#ff0000"/>
<circle cx="179.74" cy="471.45" r="3.65" fill="#ff0000"/>
<circle cx="214.16" cy="471.45" r="10.00" fill="#ff0000"/>
<circle cx="248.57" cy="471.45" r="10.50" fill="#ff0000"/>
<circle cx="282.99" cy="471.45" r="3.65" fill="#ff0000"/>
<circle cx="317.40" cy="471.45" r="8.00" fill="#ff0000"/>
<circle cx="351.81" cy="471.45" r="2.95" fill="#ff0000"/>
<circle cx="42.09" cy="499.15" r="2.95" fill="#ff0000"/>
<circle cx="76.50" cy="499.15" r="2.95" fill="#ff0000"/>
<circle cx="110.91" cy="499.15" r="12.00" fill="#ff0000"/>
<circle cx="145.33" cy="499.15" r="3.65" fill="#ff0000"/>
<circle cx="179.74" cy="499.15" r="11.00" fill="#ff0000"/>
<circle cx="214.16" cy="499.15" r="3.65" fill="#ff0000"/>
<circle cx="248.57" cy="499.15" r="3.65" fill="#ff0000"/>
<circle cx="282.99" cy="499.15" r="8.50" fill="#ff0000"/>
<circle cx="317.40" cy="499.15" r="7.50" fill="#ff0000"/>
<circle cx="351.81" cy="499.15" r="2.95" fill="#ff0000"/>
<circle cx="42.09" cy="526.85" r="6.50" fill="#ff0000"/>
<circle cx="76.50" cy="526.85" r="6.00" fill="#ff0000"/>
<circle cx="110.91" cy="526.85" r="6.00" fill="#ff0000"/>
<circle cx="145.33" cy="526.85" r="6.00" fill="#ff0000"/>
<circle cx="179.74" cy="526.85" r="6.00" fill="#ff0000"/>
<circle cx="214.16" cy="526.85" r="13.00" fill="#ff0000"/>
<circle cx="248.57" cy="526.85" r="8.00" fill="#ff0000"/>
<circle cx="282.99" cy="526.85" r="6.50" fill="#ff0000"/>
<circle cx="317.40" cy="526.85" r="7.00" fill="#ff0000"/>
<circle cx="351.81" cy="526.85" r="6.00" fill="#ff0000"/>
<circle cx="42.09" cy="554.54" r="2.95" fill="#ff0000"/>
<circle cx="76.50" cy="554.54" r="5.50" fill="#ff0000"/>
<circle cx="110.91" cy="554.54" r="7.00" fill="#ff0000"/>
<circle cx="145.33" cy="554.54" r="9.00" fill="#ff0000"/>
<circle cx="179.74" cy="554.54" r="10.00" fill="#ff0000"/>
<circle cx="214.16" cy="554.54" r="7.50" fill="#ff0000"/>
<circle cx="248.57" cy="554.54" r="5.00" fill="#ff0000"/>
<circle cx="282.99" cy="554.54" r="7.00" fill="#ff0000"/>
<circle cx="317.40" cy="554.54" r="9.50" fill="#ff0000"/>
<circle cx="351.81" cy="554.54" r="7.00" fill="#ff0000"/>
<circle cx="42.09" cy="582.24" r="2.95" fill="#ff0000"/>
<circle cx="76.50" cy="582.24" r="2.95" fill="#ff0000"/>
<circle cx="110.91" cy="582.24" r="6.30" fill="#ff0000"/>
<circle cx="145.33" cy="582.24" r="5.00" fill="#ff0000"/>
<circle cx="179.74" cy="582.24" r="3.15" fill="#ff0000"/>
<circle cx="214.16" cy="582.24" r="7.00" fill="#ff0000"/>
<circle cx="248.57" cy="582.24" r="3.65" fill="#ff0000"/>
<circle cx="282.99" cy="582.24" r="9.00" fill="#ff0000"/>
<circle cx="317.40" cy="582.24" r="7.00" fill="#ff0000"/>
<circle cx="351.81" cy="582.24" r="2.95" fill="#ff0000"/>
<circle cx="42.09" cy="609.94" r="2.95" fill="#ff0000"/>
<circle cx="76.50" cy="609.94" r="2.95" fill="#ff0000"/>
<circle cx="110.91" cy="609.94" r="5.50" fill="#ff0000"/>
<circle cx="145.33" cy="609.94" r="8.70" fill="#ff0000"/>
<circle cx="179.74" cy="609.94" r="3.15" fill="#ff0000"/>
<circle cx="214.16" cy="609.94" r="8.00" fill="#ff0000"/>
<circle cx="248.57" cy="609.94" r="8.30" fill="#ff0000"/>
<circle cx="282.99" cy="609.94" r="7.00" fill="#ff0000"/>
<circle cx="317.40" cy="609.94" r="2.95" fill="#ff0000"/>
<circle cx="351.81" cy="609.94" r="2.95" fill="#ff0000"/>
<path d="M179.7 416.1L283.0 443.8M283.0 554.5L317.4 554.5M110.9 443.8L145.3 388.4M248.6 443.8L317.4 582.2M110.9 443.8L317.4 554.5M110.9 499.1L283.0 526.8M110.9 471.5L145.3 416.1M283.0 388.4L317.4 360.7M214.2 609.9L351.8 360.7M317.4 388.4L351.8 360.7M145.3 554.5L179.7 554.5M248.6 471.5L351.8 554.5M283.0 582.2L317.4 609.9M145.3 554.5L214.2 471.5M42.1 554.5L42.1 526.8M317.4 443.8L317.4 388.4M110.9 526.8L283.0 526.8M145.3 526.8L145.3 499.1M76.5 360.7L214.2 443.8M248.6 471.5L283.0 471.5M179.7 499.1L179.7 443.8M76.5 360.7L145.3 499.1M248.6 554.5L248.6 471.5M110.9 471.5L145.3 582.2M42.1 388.4L110.9 388.4M214.2 609.9L248.6 526.8M214.2 609.9L214.2 582.2M145.3 499.1L214.2 443.8M248.6 554.5L283.0 388.4M76.5 471.5L145.3 609.9M317.4 416.1L317.4 388.4M317.4 388.4L351.8 416.1M110.9 388.4L110.9 360.7M283.0 499.1L317.4 416.1M283.0 499.1L283.0 471.5M145.3 471.5L283.0 471.5M145.3 360.7L179.7 554.5M179.7 471.5L179.7 443.8M179.7 554.5L351.8 526.8M145.3 609.9L214.2 554.5M110.9 526.8L145.3 554.5M110.9 443.8L317.4 388.4M179.7 471.5L283.0 526.8M145.3 388.4L248.6 471.5M110.9 609.9L145.3 526.8M110.9 526.8L179.7 471.5M145.3 609.9L179.7 526.8M351.8 443.8L351.8 416.1M145.3 443.8L214.2 471.5M110.9 388.4L248.6 388.4M179.7 443.8L248.6 471.5M145.3 388.4L283.0 388.4M42.1 471.5L179.7 416.1M76.5 360.7L214.2 388.4M145.3 471.5L283.0 526.8M145.3 443.8L145.3 416.1M145.3 388.4L179.7 499.1M76.5 360.7L145.3 443.8M179.7 554.5L283.0 499.1M76.5 526.8L76.5 471.5M248.6 499.1L317.4 499.1M179.7 499.1L214.2 471.5M110.9 526.8L214.2 554.5M283.0 416.1L283.0 388.4M145.3 526.8L214.2 582.2M248.6 554.5L317.4 582.2M110.9 443.8L351.8 360.7M214.2 443.8L214.2 416.1M179.7 609.9L248.6 471.5M179.7 609.9L214.2 526.8M42.1 471.5L283.0 416.1M42.1 388.4L76.5 360.7M76.5 609.9L214.2 609.9M283.0 609.9L317.4 582.2M214.2 526.8L214.2 443.8M42.1 360.7L214.2 526.8M145.3 471.5L248.6 443.8M145.3 554.5L317.4 582.2M283.0 388.4L317.4 416.1M214.2 609.9L214.2 471.5M110.9 526.8L317.4 554.5M42.1 360.7L283.0 388.4M179.7 582.2L214.2 582.2M283.0 416.1L317.4 388.4M42.1 360.7L76.5 360.7M317.4 499.1L351.8 526.8M248.6 388.4L283.0 443.8M76.5 526.8L145.3 388.4M76.5 416.1L110.9 360.7M248.6 471.5L317.4 360.7M110.9 443.8L283.0 443.8M317.4 499.1L317.4 388.4M214.2 582.2L283.0 609.9M179.7 443.8L317.4 582.2M145.3 582.2L145.3 526.8M110.9 443.8L179.7 443.8M110.9 471.5L179.7 582.2M179.7 416.1L248.6 582.2M214.2 416.1L248.6 471.5M110.9 499.1L145.3 499.1M179.7 499.1L283.0 582.2M283.0 416.1L351.8 360.7M214.2 471.5L317.4 471.5M76.5 388.4L248.6 416.1M110.9 388.4L145.3 388.4M145.3 471.5L283.0 416.1M248.6 443.8L317.4 360.7M248.6 443.8L283.0 416.1M248.6 499.1L283.0 554.5M145.3 582.2L248.6 609.9M283.0 443.8L351.8 360.7M110.9 499.1L179.7 416.1M283.0 582.2L283.0 554.5M76.5 416.1L110.9 416.1M42.1 388.4L214.2 416.1M145.3 526.8L179.7 554.5M42.1 499.1L76.5 471.5M42.1 471.5L248.6 443.8M214.2 554.5L283.0 499.1M42.1 471.5L145.3 554.5M76.5 471.5L145.3 443.8M179.7 416.1L214.2 416.1M283.0 499.1L317.4 554.5M110.9 360.7L145.3 388.4M214.2 609.9L317.4 526.8M283.0 609.9L283.0 526.8M214.2 609.9L283.0 582.2M248.6 526.8L317.4 443.8M179.7 388.4L248.6 388.4M42.1 471.5L179.7 471.5M76.5 499.1L179.7 609.9M145.3 499.1L179.7 554.5M110.9 582.2L145.3 471.5M110.9 471.5L110.9 416.1M145.3 554.5L283.0 526.8M76.5 526.8L76.5 416.1M351.8 554.5L351.8 360.7M76.5 499.1L110.9 526.8M248.6 499.1L248.6 471.5M145.3 443.8L248.6 554.5M110.9 554.5L145.3 471.5M317.4 582.2L351.8 554.5M214.2 554.5L248.6 526.8M145.3 526.8L283.0 388.4M179.7 443.8L283.0 526.8M110.9 526.8L145.3 443.8M283.0 499.1L351.8 526.8M248.6 443.8L351.8 526.8M110.9 471.5L179.7 471.5M145.3 499.1L214.2 526.8M179.7 499.1L317.4 416.1M214.2 388.4L351.8 360.7M42.1 388.4L317.4 471.5M76.5 416.1L179.7 526.8M179.7 443.8L351.8 388.4M317.4 554.5L351.8 554.5M283.0 443.8L317.4 443.8M179.7 554.5L248.6 471.5M179.7 554.5L214.2 526.8M317.4 443.8L351.8 443.8M110.9 582.2L248.6 609.9M42.1 388.4L351.8 388.4M283.0 554.5L283.0 388.4M42.1 388.4L145.3 360.7M76.5 499.1L179.7 443.8M317.4 499.1L317.4 443.8M76.5 609.9L283.0 609.9M214.2 609.9L248.6 554.5M317.4 360.7L351.8 360.7M110.9 388.4L351.8 360.7M76.5 471.5L110.9 388.4M76.5 526.8L248.6 526.8M110.9 416.1L351.8 443.8M179.7 416.1L351.8 388.4M42.1 554.5L145.3 609.9M317.4 582.2L317.4 471.5M76.5 554.5L214.2 609.9M214.2 582.2L248.6 526.8M42.1 526.8L76.5 554.5M283.0 471.5L317.4 471.5M110.9 388.4L145.3 443.8M42.1 360.7L145.3 360.7M283.0 499.1L351.8 360.7M145.3 471.5L351.8 360.7M42.1 360.7L110.9 416.1M76.5 554.5L283.0 471.5M248.6 582.2L283.0 554.5M283.0 582.2L317.4 582.2M248.6 554.5L317.4 526.8M214.2 443.8L351.8 443.8M248.6 554.5L283.0 582.2M145.3 471.5L145.3 443.8M110.9 388.4L248.6 526.8M214.2 609.9L248.6 609.9M145.3 443.8L248.6 443.8M76.5 471.5L110.9 443.8M110.9 360.7L145.3 443.8M248.6 443.8L317.4 499.1M110.9 416.1L145.3 471.5M283.0 609.9L283.0 582.2M317.4 554.5L351.8 388.4M76.5 416.1L214.2 443.8M248.6 526.8L317.4 388.4M42.1 526.8L76.5 609.9M283.0 554.5L317.4 582.2M214.2 499.1L317.4 554.5M179.7 554.5L317.4 582.2M42.1 526.8L214.2 416.1M145.3 416.1L179.7 471.5M76.5 471.5L110.9 499.1M214.2 388.4L317.4 443.8M283.0 388.4L317.4 388.4M214.2 609.9L351.8 388.4M145.3 499.1L145.3 471.5M248.6 471.5L248.6 443.8M42.1 388.4L179.7 526.8M248.6 526.8L283.0 499.1M248.6 526.8L317.4 582.2M283.0 526.8L317.4 499.1M76.5 582.2L145.3 499.1M179.7 471.5L214.2 499.1M145.3 582.2L145.3 499.1M110.9 443.8L145.3 471.5M76.5 416.1L76.5 388.4M110.9 471.5L214.2 443.8M145.3 416.1L248.6 499.1M110.9 471.5L145.3 499.1M179.7 443.8L283.0 582.2M42.1 360.7L317.4 360.7M283.0 554.5L351.8 554.5M110.9 416.1L110.9 360.7M351.8 443.8L351.8 388.4M76.5 554.5L214.2 499.1M283.0 388.4L351.8 360.7M145.3 554.5L351.8 526.8M76.5 554.5L145.3 554.5M283.0 416.1L351.8 443.8M214.2 471.5L283.0 471.5M317.4 471.5L351.8 360.7M145.3 582.2L248.6 554.5M145.3 582.2L214.2 609.9M145.3 443.8L145.3 388.4M283.0 443.8L351.8 443.8M145.3 360.7L214.2 360.7M110.9 526.8L214.2 526.8M351.8 526.8L351.8 360.7M214.2 471.5L214.2 388.4M214.2 526.8L283.0 499.1M145.3 499.1L248.6 609.9M214.2 554.5L283.0 582.2M179.7 471.5L317.4 360.7M248.6 443.8L283.0 554.5M110.9 526.8L179.7 499.1M283.0 609.9L283.0 471.5M248.6 388.4L317.4 471.5M76.5 360.7L110.9 416.1M283.0 388.4L351.8 416.1M214.2 582.2L214.2 526.8M76.5 443.8L76.5 416.1M248.6 471.5L317.4 554.5M110.9 471.5L214.2 388.4M248.6 471.5L283.0 609.9M179.7 554.5L317.4 471.5M145.3 609.9L283.0 499.1M248.6 582.2L283.0 499.1M317.4 554.5L317.4 526.8M42.1 526.8L42.1 471.5M76.5 443.8L283.0 499.1M248.6 554.5L283.0 526.8M283.0 416.1L351.8 554.5M110.9 554.5L110.9 471.5M110.9 443.8L110.9 416.1M283.0 443.8L351.8 554.5M76.5 360.7L145.3 416.1M214.2 582.2L317.4 526.8M214.2 582.2L283.0 582.2M179.7 443.8L317.4 416.1M42.1 471.5L76.5 471.5M179.7 499.1L214.2 443.8M214.2 443.8L248.6 443.8M283.0 388.4L317.4 443.8M145.3 526.8L248.6 499.1M317.4 443.8L317.4 360.7M76.5 416.1L179.7 471.5M317.4 388.4L351.8 443.8M317.4 471.5L317.4 443.8M145.3 499.1L145.3 416.1M42.1 360.7L76.5 388.4M145.3 582.2L214.2 499.1M145.3 609.9L214.2 582.2M179.7 416.1L317.4 416.1M179.7 416.1L283.0 471.5M76.5 416.1L110.9 388.4M42.1 388.4L214.2 388.4M110.9 443.8L145.3 416.1M110.9 416.1L283.0 416.1M42.1 526.8L248.6 499.1M42.1 526.8L214.2 554.5M317.4 360.7L351.8 443.8M110.9 388.4L351.8 443.8M145.3 388.4L248.6 388.4M145.3 554.5L248.6 443.8M214.2 526.8L317.4 443.8M76.5 526.8L145.3 471.5M283.0 443.8L317.4 471.5M76.5 526.8L110.9 526.8M179.7 554.5L214.2 554.5M317.4 526.8L317.4 471.5M145.3 499.1L179.7 526.8M42.1 360.7L110.9 360.7M145.3 471.5L317.4 388.4M145.3 416.1L214.2 388.4M179.7 554.5L317.4 360.7M110.9 443.8L317.4 360.7M283.0 582.2L317.4 526.8M42.1 526.8L42.1 360.7M179.7 471.5L351.8 360.7M214.2 471.5L317.4 554.5M283.0 471.5L317.4 499.1M42.1 471.5L145.3 582.2M248.6 443.8L283.0 499.1M145.3 388.4L179.7 471.5M214.2 443.8L317.4 554.5M214.2 443.8L283.0 609.9M76.5 526.8L76.5 443.8M214.2 526.8L214.2 471.5M145.3 471.5L179.7 609.9M110.9 554.5L248.6 609.9M76.5 471.5L179.7 554.5M145.3 360.7L214.2 499.1M42.1 471.5L179.7 499.1M248.6 443.8L351.8 360.7M248.6 554.5L317.4 554.5M110.9 471.5L110.9 443.8M110.9 360.7L214.2 416.1M145.3 609.9L179.7 554.5M179.7 388.4L214.2 526.8M283.0 526.8L283.0 499.1M214.2 582.2L248.6 609.9M110.9 582.2L145.3 554.5M76.5 526.8L76.5 499.1M110.9 499.1L179.7 554.5M42.1 526.8L145.3 499.1M179.7 443.8L317.4 360.7M42.1 471.5L110.9 471.5M42.1 526.8L110.9 554.5M283.0 443.8L317.4 360.7M179.7 526.8L317.4 582.2M283.0 388.4L351.8 443.8M76.5 526.8L110.9 416.1M110.9 499.1L145.3 416.1M110.9 554.5L145.3 554.5M317.4 471.5L351.8 443.8M248.6 443.8L283.0 443.8M248.6 499.1L283.0 471.5M145.3 471.5L179.7 443.8M76.5 471.5L179.7 499.1M110.9 582.2L145.3 609.9M145.3 609.9L145.3 582.2M76.5 443.8L248.6 471.5M110.9 526.8L145.3 416.1M214.2 526.8L317.4 526.8M42.1 388.4L145.3 388.4M145.3 499.1L248.6 554.5M76.5 526.8L145.3 554.5M214.2 443.8L248.6 582.2M214.2 499.1L283.0 388.4M283.0 609.9L351.8 526.8M317.4 416.1L351.8 360.7M248.6 609.9L317.4 526.8M42.1 471.5L145.3 471.5M214.2 471.5L283.0 499.1M110.9 499.1L248.6 471.5M76.5 360.7L110.9 360.7M76.5 499.1L317.4 360.7M110.9 554.5L214.2 554.5M179.7 499.1L248.6 416.1M317.4 443.8L351.8 416.1M42.1 471.5L179.7 388.4M42.1 360.7L145.3 388.4M42.1 360.7L110.9 443.8M214.2 443.8L351.8 360.7M248.6 499.1L283.0 526.8M248.6 416.1L317.4 554.5M76.5 471.5L110.9 471.5M145.3 416.1L145.3 388.4M145.3 609.9L283.0 582.2M76.5 554.5L76.5 471.5M145.3 388.4L214.2 443.8M110.9 360.7L145.3 360.7M317.4 582.2L317.4 554.5M214.2 609.9L283.0 554.5M214.2 443.8L214.2 388.4M214.2 582.2L214.2 554.5M248.6 582.2L351.8 443.8M145.3 443.8L214.2 526.8M42.1 471.5L110.9 582.2M42.1 360.7L110.9 499.1M110.9 388.4L145.3 416.1M179.7 526.8L179.7 443.8M76.5 526.8L283.0 416.1M317.4 388.4L317.4 360.7M214.2 471.5L248.6 526.8M179.7 499.1L214.2 526.8M248.6 416.1L283.0 388.4M317.4 526.8L351.8 526.8M145.3 443.8L179.7 499.1M145.3 526.8L248.6 443.8M248.6 554.5L317.4 499.1M145.3 499.1L248.6 388.4M110.9 526.8L283.0 582.2M110.9 388.4L248.6 499.1M283.0 471.5L283.0 388.4M76.5 416.1L179.7 443.8M110.9 360.7L145.3 416.1M214.2 526.8L351.8 554.5M214.2 443.8L283.0 443.8M179.7 471.5L248.6 471.5M145.3 526.8L179.7 471.5M110.9 471.5L214.2 582.2M110.9 582.2L110.9 554.5M76.5 471.5L248.6 554.5M42.1 526.8L145.3 554.5M42.1 526.8L110.9 609.9M145.3 388.4L214.2 388.4M76.5 499.1L145.3 499.1M351.8 554.5L351.8 526.8M42.1 360.7L76.5 416.1M145.3 554.5L214.2 582.2M179.7 554.5L214.2 499.1M110.9 416.1L110.9 388.4M110.9 471.5L179.7 443.8M76.5 471.5L76.5 443.8M145.3 609.9L214.2 609.9M145.3 360.7L351.8 360.7M76.5 554.5L145.3 582.2M283.0 471.5L317.4 388.4M248.6 471.5L317.4 526.8M317.4 471.5L351.8 388.4M248.6 471.5L283.0 582.2M317.4 499.1L317.4 416.1M76.5 499.1L248.6 582.2M76.5 471.5L110.9 360.7M179.7 554.5L179.7 471.5M179.7 416.1L351.8 360.7M145.3 609.9L179.7 582.2M76.5 360.7L179.7 526.8M248.6 554.5L317.4 443.8M42.1 499.1L248.6 499.1M76.5 526.8L110.9 554.5M76.5 499.1L283.0 499.1M317.4 388.4L351.8 526.8M42.1 499.1L145.3 609.9M179.7 416.1L214.2 388.4M283.0 499.1L317.4 526.8M110.9 443.8L110.9 388.4M76.5 416.1L214.2 471.5M248.6 499.1L317.4 554.5M110.9 416.1L145.3 388.4M76.5 360.7L110.9 443.8M283.0 471.5L351.8 360.7M179.7 499.1L214.2 416.1M283.0 499.1L351.8 443.8M214.2 609.9L248.6 582.2M179.7 609.9L214.2 582.2M317.4 554.5L351.8 360.7M42.1 526.8L42.1 499.1M283.0 526.8L317.4 526.8M283.0 471.5L351.8 554.5M110.9 471.5L248.6 416.1" stroke="#00bfbf" stroke-width="1.5" fill="none" stroke-linecap="round"/>
</g>
<rect x="26.40" y="348.20" width="340.70" height="274.20" fill="none" stroke="#111" stroke-width="1.0"/>
<path d="M26.40 622.40v4.3M26.40 622.40h-4.3M94.54 622.40v4.3M26.40 567.56h-4.3M162.68 622.40v4.3M26.40 512.72h-4.3M230.82 622.40v4.3M26.40 457.88h-4.3M298.96 622.40v4.3M26.40 403.04h-4.3M367.10 622.40v4.3M26.40 348.20h-4.3M42.09 622.40v4.3M26.40 609.94h-4.3M110.91 622.40v4.3M26.40 554.54h-4.3M179.74 622.40v4.3M26.40 499.15h-4.3M248.57 622.40v4.3M26.40 443.75h-4.3M317.40 622.40v4.3M26.40 388.36h-4.3" stroke="#000" stroke-width="0.9"/>
<text transform="translate(25.60,639.70) scale(0.93,1)" font-size="12.0" text-anchor="middle">0.0</text>
<text transform="translate(17.50,626.70) scale(0.93,1)" font-size="12.0" text-anchor="end">0.0</text>
<text transform="translate(93.74,639.70) scale(0.93,1)" font-size="12.0" text-anchor="middle">0.2</text>
<text transform="translate(17.50,571.86) scale(0.93,1)" font-size="12.0" text-anchor="end">0.2</text>
<text transform="translate(161.88,639.70) scale(0.93,1)" font-size="12.0" text-anchor="middle">0.4</text>
<text transform="translate(17.50,517.02) scale(0.93,1)" font-size="12.0" text-anchor="end">0.4</text>
<text transform="translate(230.02,639.70) scale(0.93,1)" font-size="12.0" text-anchor="middle">0.6</text>
<text transform="translate(17.50,462.18) scale(0.93,1)" font-size="12.0" text-anchor="end">0.6</text>
<text transform="translate(298.16,639.70) scale(0.93,1)" font-size="12.0" text-anchor="middle">0.8</text>
<text transform="translate(17.50,407.34) scale(0.93,1)" font-size="12.0" text-anchor="end">0.8</text>
<text transform="translate(366.30,639.70) scale(0.93,1)" font-size="12.0" text-anchor="middle">1.0</text>
<text transform="translate(17.50,352.50) scale(0.93,1)" font-size="12.0" text-anchor="end">1.0</text>
<text transform="translate(41.29,639.70) scale(0.93,1)" font-size="12.0" text-anchor="middle">0</text>
<text transform="translate(17.50,614.24) scale(0.93,1)" font-size="12.0" text-anchor="end">0</text>
<text transform="translate(110.11,639.70) scale(0.93,1)" font-size="12.0" text-anchor="middle">2</text>
<text transform="translate(17.50,558.84) scale(0.93,1)" font-size="12.0" text-anchor="end">2</text>
<text transform="translate(178.94,639.70) scale(0.93,1)" font-size="12.0" text-anchor="middle">4</text>
<text transform="translate(17.50,503.45) scale(0.93,1)" font-size="12.0" text-anchor="end">4</text>
<text transform="translate(247.77,639.70) scale(0.93,1)" font-size="12.0" text-anchor="middle">6</text>
<text transform="translate(17.50,448.05) scale(0.93,1)" font-size="12.0" text-anchor="end">6</text>
<text transform="translate(316.60,639.70) scale(0.93,1)" font-size="12.0" text-anchor="middle">8</text>
<text transform="translate(17.50,392.66) scale(0.93,1)" font-size="12.0" text-anchor="end">8</text>
<text x="195.85" y="341.60" font-size="14.7" text-anchor="middle" textLength="105.8" lengthAdjust="spacingAndGlyphs">Beta (12-30 Hz)</text>
<rect x="434.90" y="348.20" width="340.70" height="274.20" fill="#808080"/>
<clipPath id="cBR"><rect x="434.90" y="348.20" width="340.70" height="274.20"/></clipPath>
<g clip-path="url(#cBR)">
<circle cx="450.59" cy="360.66" r="3.15" fill="#ff0000"/>
<circle cx="485.00" cy="360.66" r="3.15" fill="#ff0000"/>
<circle cx="519.41" cy="360.66" r="3.15" fill="#ff0000"/>
<circle cx="553.83" cy="360.66" r="3.15" fill="#ff0000"/>
<circle cx="588.24" cy="360.66" r="3.15" fill="#ff0000"/>
<circle cx="622.66" cy="360.66" r="3.15" fill="#ff0000"/>
<circle cx="657.07" cy="360.66" r="3.15" fill="#ff0000"/>
<circle cx="691.49" cy="360.66" r="3.15" fill="#ff0000"/>
<circle cx="725.90" cy="360.66" r="3.15" fill="#ff0000"/>
<circle cx="760.31" cy="360.66" r="3.15" fill="#ff0000"/>
<circle cx="450.59" cy="388.36" r="2.95" fill="#ff0000"/>
<circle cx="485.00" cy="388.36" r="2.95" fill="#ff0000"/>
<circle cx="519.41" cy="388.36" r="3.15" fill="#ff0000"/>
<circle cx="553.83" cy="388.36" r="6.00" fill="#ff0000"/>
<circle cx="588.24" cy="388.36" r="3.15" fill="#ff0000"/>
<circle cx="622.66" cy="388.36" r="3.15" fill="#ff0000"/>
<circle cx="657.07" cy="388.36" r="3.15" fill="#ff0000"/>
<circle cx="691.49" cy="388.36" r="3.15" fill="#ff0000"/>
<circle cx="725.90" cy="388.36" r="3.15" fill="#ff0000"/>
<circle cx="760.31" cy="388.36" r="6.00" fill="#ff0000"/>
<circle cx="450.59" cy="416.06" r="2.95" fill="#ff0000"/>
<circle cx="485.00" cy="416.06" r="2.95" fill="#ff0000"/>
<circle cx="519.41" cy="416.06" r="3.15" fill="#ff0000"/>
<circle cx="553.83" cy="416.06" r="3.15" fill="#ff0000"/>
<circle cx="588.24" cy="416.06" r="6.00" fill="#ff0000"/>
<circle cx="622.66" cy="416.06" r="3.65" fill="#ff0000"/>
<circle cx="657.07" cy="416.06" r="3.15" fill="#ff0000"/>
<circle cx="691.49" cy="416.06" r="5.00" fill="#ff0000"/>
<circle cx="725.90" cy="416.06" r="3.15" fill="#ff0000"/>
<circle cx="760.31" cy="416.06" r="8.00" fill="#ff0000"/>
<circle cx="450.59" cy="443.75" r="2.95" fill="#ff0000"/>
<circle cx="485.00" cy="443.75" r="2.95" fill="#ff0000"/>
<circle cx="519.41" cy="443.75" r="3.15" fill="#ff0000"/>
<circle cx="553.83" cy="443.75" r="3.65" fill="#ff0000"/>
<circle cx="588.24" cy="443.75" r="3.65" fill="#ff0000"/>
<circle cx="622.66" cy="443.75" r="3.65" fill="#ff0000"/>
<circle cx="657.07" cy="443.75" r="3.65" fill="#ff0000"/>
<circle cx="691.49" cy="443.75" r="3.65" fill="#ff0000"/>
<circle cx="725.90" cy="443.75" r="3.65" fill="#ff0000"/>
<circle cx="760.31" cy="443.75" r="3.65" fill="#ff0000"/>
<circle cx="450.59" cy="471.45" r="3.15" fill="#ff0000"/>
<circle cx="485.00" cy="471.45" r="2.95" fill="#ff0000"/>
<circle cx="519.41" cy="471.45" r="3.15" fill="#ff0000"/>
<circle cx="553.83" cy="471.45" r="3.65" fill="#ff0000"/>
<circle cx="588.24" cy="471.45" r="3.65" fill="#ff0000"/>
<circle cx="622.66" cy="471.45" r="5.00" fill="#ff0000"/>
<circle cx="657.07" cy="471.45" r="3.65" fill="#ff0000"/>
<circle cx="691.49" cy="471.45" r="3.65" fill="#ff0000"/>
<circle cx="725.90" cy="471.45" r="6.00" fill="#ff0000"/>
<circle cx="760.31" cy="471.45" r="3.15" fill="#ff0000"/>
<circle cx="450.59" cy="499.15" r="3.15" fill="#ff0000"/>
<circle cx="485.00" cy="499.15" r="2.95" fill="#ff0000"/>
<circle cx="519.41" cy="499.15" r="3.65" fill="#ff0000"/>
<circle cx="553.83" cy="499.15" r="3.15" fill="#ff0000"/>
<circle cx="588.24" cy="499.15" r="3.65" fill="#ff0000"/>
<circle cx="622.66" cy="499.15" r="3.65" fill="#ff0000"/>
<circle cx="657.07" cy="499.15" r="3.65" fill="#ff0000"/>
<circle cx="691.49" cy="499.15" r="5.00" fill="#ff0000"/>
<circle cx="725.90" cy="499.15" r="7.00" fill="#ff0000"/>
<circle cx="760.31" cy="499.15" r="3.15" fill="#ff0000"/>
<circle cx="450.59" cy="526.85" r="3.15" fill="#ff0000"/>
<circle cx="485.00" cy="526.85" r="3.15" fill="#ff0000"/>
<circle cx="519.41" cy="526.85" r="3.15" fill="#ff0000"/>
<circle cx="553.83" cy="526.85" r="3.15" fill="#ff0000"/>
<circle cx="588.24" cy="526.85" r="3.65" fill="#ff0000"/>
<circle cx="622.66" cy="526.85" r="3.65" fill="#ff0000"/>
<circle cx="657.07" cy="526.85" r="3.65" fill="#ff0000"/>
<circle cx="691.49" cy="526.85" r="5.00" fill="#ff0000"/>
<circle cx="725.90" cy="526.85" r="7.00" fill="#ff0000"/>
<circle cx="760.31" cy="526.85" r="7.50" fill="#ff0000"/>
<circle cx="450.59" cy="554.54" r="3.15" fill="#ff0000"/>
<circle cx="485.00" cy="554.54" r="3.15" fill="#ff0000"/>
<circle cx="519.41" cy="554.54" r="3.15" fill="#ff0000"/>
<circle cx="553.83" cy="554.54" r="3.15" fill="#ff0000"/>
<circle cx="588.24" cy="554.54" r="3.65" fill="#ff0000"/>
<circle cx="622.66" cy="554.54" r="8.00" fill="#ff0000"/>
<circle cx="657.07" cy="554.54" r="3.65" fill="#ff0000"/>
<circle cx="691.49" cy="554.54" r="6.00" fill="#ff0000"/>
<circle cx="725.90" cy="554.54" r="3.65" fill="#ff0000"/>
<circle cx="760.31" cy="554.54" r="8.00" fill="#ff0000"/>
<circle cx="450.59" cy="582.24" r="2.95" fill="#ff0000"/>
<circle cx="485.00" cy="582.24" r="2.95" fill="#ff0000"/>
<circle cx="519.41" cy="582.24" r="3.15" fill="#ff0000"/>
<circle cx="553.83" cy="582.24" r="3.65" fill="#ff0000"/>
<circle cx="588.24" cy="582.24" r="3.15" fill="#ff0000"/>
<circle cx="622.66" cy="582.24" r="7.00" fill="#ff0000"/>
<circle cx="657.07" cy="582.24" r="3.15" fill="#ff0000"/>
<circle cx="691.49" cy="582.24" r="3.15" fill="#ff0000"/>
<circle cx="725.90" cy="582.24" r="3.15" fill="#ff0000"/>
<circle cx="760.31" cy="582.24" r="3.15" fill="#ff0000"/>
<circle cx="450.59" cy="609.94" r="2.95" fill="#ff0000"/>
<circle cx="485.00" cy="609.94" r="2.95" fill="#ff0000"/>
<circle cx="519.41" cy="609.94" r="3.15" fill="#ff0000"/>
<circle cx="553.83" cy="609.94" r="3.15" fill="#ff0000"/>
<circle cx="588.24" cy="609.94" r="3.15" fill="#ff0000"/>
<circle cx="622.66" cy="609.94" r="3.15" fill="#ff0000"/>
<circle cx="657.07" cy="609.94" r="3.15" fill="#ff0000"/>
<circle cx="691.49" cy="609.94" r="6.50" fill="#ff0000"/>
<circle cx="725.90" cy="609.94" r="3.15" fill="#ff0000"/>
<circle cx="760.31" cy="609.94" r="3.15" fill="#ff0000"/>
<path d="M588.2 416.1L691.5 443.8M588.2 471.5L622.7 416.1M691.5 554.5L725.9 554.5M657.1 416.1L691.5 443.8M622.7 471.5L657.1 471.5M657.1 471.5L760.3 554.5M725.9 554.5L725.9 499.1M657.1 526.8L725.9 554.5M450.6 554.5L450.6 526.8M657.1 499.1L760.3 526.8M691.5 582.2L760.3 526.8M553.8 388.4L588.2 554.5M588.2 499.1L588.2 443.8M622.7 526.8L657.1 499.1M485.0 360.7L519.4 554.5M622.7 443.8L691.5 388.4M691.5 526.8L725.9 582.2M588.2 471.5L622.7 582.2M588.2 416.1L725.9 443.8M553.8 443.8L691.5 526.8M553.8 609.9L588.2 471.5M519.4 499.1L657.1 443.8M622.7 609.9L657.1 526.8M760.3 416.1L760.3 360.7M588.2 499.1L725.9 471.5M725.9 388.4L760.3 416.1M588.2 499.1L691.5 526.8M657.1 443.8L691.5 471.5M588.2 471.5L588.2 443.8M553.8 554.5L657.1 471.5M485.0 416.1L622.7 360.7M553.8 471.5L588.2 582.2M553.8 554.5L622.7 526.8M588.2 554.5L760.3 526.8M691.5 609.9L691.5 388.4M657.1 388.4L725.9 388.4M485.0 416.1L519.4 471.5M553.8 609.9L622.7 554.5M450.6 526.8L485.0 416.1M588.2 499.1L760.3 388.4M657.1 471.5L725.9 471.5M450.6 526.8L657.1 582.2M622.7 499.1L691.5 416.1M657.1 499.1L760.3 360.7M657.1 526.8L760.3 526.8M450.6 471.5L760.3 526.8M588.2 471.5L725.9 471.5M553.8 554.5L588.2 499.1M588.2 471.5L691.5 526.8M588.2 554.5L588.2 416.1M725.9 360.7L760.3 416.1M450.6 471.5L553.8 499.1M553.8 609.9L588.2 526.8M691.5 526.8L725.9 416.1M691.5 526.8L691.5 471.5M553.8 526.8L553.8 443.8M657.1 443.8L725.9 471.5M553.8 554.5L725.9 526.8M588.2 526.8L657.1 554.5M622.7 443.8L725.9 582.2M450.6 526.8L760.3 360.7M691.5 443.8L760.3 471.5M588.2 499.1L622.7 471.5M519.4 499.1L588.2 526.8M485.0 416.1L519.4 526.8M519.4 526.8L553.8 609.9M622.7 471.5L760.3 499.1M622.7 499.1L691.5 582.2M553.8 526.8L622.7 582.2M519.4 388.4L657.1 443.8M588.2 416.1L657.1 471.5M588.2 609.9L622.7 526.8M691.5 609.9L725.9 582.2M622.7 526.8L622.7 443.8M691.5 526.8L725.9 471.5M588.2 471.5L622.7 471.5M622.7 471.5L760.3 554.5M553.8 443.8L725.9 360.7M519.4 471.5L622.7 416.1M553.8 471.5L622.7 499.1M519.4 471.5L553.8 471.5M622.7 443.8L760.3 554.5M553.8 499.1L657.1 526.8M485.0 471.5L622.7 443.8M519.4 360.7L622.7 499.1M691.5 609.9L760.3 499.1M519.4 526.8L725.9 554.5M519.4 416.1L588.2 443.8M450.6 443.8L588.2 526.8M691.5 526.8L760.3 388.4M622.7 471.5L725.9 416.1M588.2 582.2L622.7 582.2M691.5 416.1L725.9 388.4M588.2 554.5L622.7 582.2M725.9 499.1L760.3 526.8M553.8 471.5L588.2 471.5M657.1 526.8L725.9 499.1M691.5 443.8L725.9 388.4M485.0 526.8L519.4 443.8M588.2 609.9L691.5 582.2M691.5 609.9L760.3 554.5M519.4 443.8L691.5 443.8M725.9 499.1L725.9 388.4M657.1 499.1L725.9 443.8M657.1 416.1L725.9 526.8M519.4 471.5L691.5 471.5M553.8 388.4L622.7 416.1M553.8 388.4L760.3 499.1M553.8 471.5L657.1 499.1M553.8 554.5L760.3 554.5M725.9 582.2L725.9 526.8M485.0 526.8L657.1 471.5M519.4 499.1L553.8 499.1M691.5 471.5L725.9 526.8M553.8 360.7L691.5 499.1M657.1 443.8L691.5 416.1M588.2 526.8L657.1 443.8M622.7 443.8L725.9 471.5M485.0 360.7L519.4 388.4M588.2 499.1L622.7 360.7M588.2 499.1L760.3 443.8M485.0 416.1L553.8 360.7M588.2 416.1L725.9 582.2M553.8 526.8L588.2 554.5M519.4 526.8L553.8 499.1M553.8 526.8L622.7 471.5M588.2 471.5L691.5 582.2M519.4 471.5L725.9 471.5M588.2 609.9L622.7 416.1M519.4 360.7L553.8 388.4M519.4 416.1L553.8 416.1M622.7 554.5L760.3 360.7M691.5 526.8L691.5 416.1M450.6 526.8L588.2 554.5M588.2 416.1L760.3 554.5M760.3 554.5L760.3 360.7M450.6 360.7L588.2 388.4M588.2 554.5L622.7 471.5M622.7 582.2L657.1 582.2M657.1 499.1L657.1 471.5M588.2 416.1L657.1 526.8M553.8 360.7L691.5 443.8M725.9 554.5L760.3 499.1M588.2 499.1L657.1 554.5M691.5 526.8L760.3 471.5M657.1 499.1L691.5 388.4M622.7 582.2L691.5 499.1M622.7 471.5L657.1 499.1M553.8 388.4L760.3 388.4M691.5 499.1L760.3 526.8M519.4 471.5L588.2 471.5M553.8 499.1L657.1 471.5M588.2 526.8L691.5 609.9M553.8 499.1L622.7 526.8M485.0 416.1L691.5 416.1M588.2 499.1L691.5 471.5M588.2 582.2L657.1 471.5M725.9 554.5L760.3 554.5M622.7 471.5L691.5 416.1M622.7 499.1L657.1 443.8M588.2 554.5L657.1 471.5M691.5 443.8L725.9 443.8M588.2 554.5L622.7 526.8M519.4 443.8L622.7 526.8M725.9 443.8L760.3 443.8M588.2 609.9L691.5 526.8M553.8 499.1L588.2 499.1M485.0 526.8L760.3 554.5M519.4 360.7L588.2 416.1M588.2 582.2L588.2 499.1M553.8 388.4L657.1 416.1M450.6 471.5L519.4 499.1M588.2 554.5L588.2 499.1M519.4 471.5L691.5 416.1M450.6 554.5L553.8 609.9M553.8 416.1L691.5 526.8M519.4 499.1L553.8 554.5M622.7 582.2L657.1 526.8M588.2 443.8L622.7 471.5M691.5 471.5L725.9 471.5M622.7 388.4L760.3 416.1M485.0 526.8L691.5 443.8M553.8 416.1L657.1 388.4M657.1 499.1L691.5 499.1M553.8 526.8L725.9 582.2M519.4 443.8L691.5 582.2M519.4 499.1L588.2 471.5M760.3 471.5L760.3 443.8M657.1 582.2L691.5 554.5M553.8 360.7L657.1 416.1M622.7 388.4L691.5 443.8M485.0 554.5L588.2 582.2M691.5 471.5L760.3 388.4M691.5 582.2L725.9 582.2M622.7 526.8L725.9 554.5M725.9 554.5L725.9 471.5M657.1 471.5L760.3 416.1M622.7 416.1L657.1 609.9M657.1 609.9L725.9 554.5M553.8 443.8L657.1 443.8M588.2 416.1L657.1 416.1M657.1 609.9L691.5 609.9M519.4 554.5L760.3 388.4M588.2 526.8L588.2 416.1M691.5 609.9L725.9 526.8M519.4 360.7L725.9 499.1M622.7 554.5L622.7 471.5M622.7 416.1L691.5 526.8M519.4 609.9L519.4 360.7M725.9 471.5L760.3 526.8M622.7 471.5L760.3 526.8M622.7 471.5L622.7 443.8M553.8 526.8L760.3 554.5M657.1 443.8L760.3 416.1M588.2 554.5L725.9 582.2M553.8 416.1L588.2 471.5M553.8 609.9L691.5 609.9M485.0 416.1L588.2 416.1M588.2 582.2L760.3 499.1M657.1 443.8L657.1 388.4M553.8 582.2L622.7 443.8M588.2 471.5L657.1 443.8M553.8 443.8L657.1 499.1M519.4 471.5L622.7 443.8M519.4 499.1L691.5 609.9M519.4 471.5L553.8 499.1M657.1 526.8L760.3 499.1M622.7 554.5L622.7 526.8M691.5 416.1L725.9 526.8M622.7 471.5L657.1 554.5M553.8 388.4L622.7 360.7M588.2 582.2L657.1 554.5M657.1 416.1L691.5 416.1M622.7 443.8L657.1 554.5M691.5 443.8L725.9 526.8M760.3 443.8L760.3 388.4M485.0 554.5L622.7 499.1M622.7 582.2L622.7 471.5M485.0 554.5L553.8 554.5M588.2 499.1L691.5 416.1M622.7 471.5L691.5 471.5M725.9 471.5L760.3 360.7M691.5 499.1L725.9 443.8M622.7 499.1L760.3 526.8M622.7 499.1L622.7 443.8M622.7 360.7L691.5 554.5M588.2 526.8L622.7 582.2M519.4 443.8L691.5 471.5M485.0 416.1L622.7 388.4M657.1 609.9L657.1 582.2M588.2 526.8L760.3 416.1M450.6 443.8L553.8 388.4M519.4 526.8L657.1 471.5M450.6 443.8L519.4 443.8M485.0 471.5L485.0 416.1M553.8 499.1L588.2 443.8M485.0 416.1L725.9 499.1M691.5 388.4L725.9 499.1M622.7 554.5L725.9 526.8M588.2 471.5L691.5 416.1M553.8 554.5L622.7 609.9M450.6 471.5L691.5 443.8M485.0 360.7L519.4 416.1M691.5 388.4L760.3 416.1M725.9 416.1L760.3 388.4M622.7 416.1L725.9 360.7M622.7 554.5L622.7 360.7M691.5 416.1L760.3 499.1M725.9 471.5L760.3 416.1M519.4 471.5L553.8 443.8M553.8 554.5L691.5 471.5M622.7 499.1L691.5 499.1M588.2 554.5L691.5 526.8M588.2 471.5L725.9 554.5M657.1 388.4L760.3 388.4M691.5 443.8L760.3 499.1M725.9 554.5L725.9 526.8M519.4 499.1L657.1 582.2M622.7 471.5L657.1 388.4M760.3 526.8L760.3 416.1M622.7 526.8L725.9 499.1M657.1 554.5L691.5 526.8M622.7 554.5L725.9 582.2M553.8 388.4L725.9 416.1M519.4 609.9L588.2 526.8M691.5 443.8L760.3 554.5M553.8 416.1L622.7 443.8M622.7 526.8L760.3 416.1M485.0 554.5L691.5 609.9M485.0 416.1L553.8 554.5M553.8 360.7L657.1 554.5M691.5 416.1L725.9 416.1M622.7 471.5L657.1 443.8M553.8 471.5L657.1 471.5M622.7 443.8L657.1 443.8M553.8 526.8L657.1 499.1M519.4 360.7L657.1 471.5M485.0 416.1L588.2 471.5M519.4 526.8L725.9 582.2M622.7 388.4L725.9 388.4M485.0 554.5L519.4 499.1M760.3 554.5L760.3 499.1M622.7 499.1L657.1 526.8M691.5 499.1L691.5 388.4M622.7 554.5L657.1 554.5M553.8 582.2L553.8 554.5M553.8 609.9L622.7 582.2M553.8 443.8L691.5 499.1M588.2 471.5L622.7 443.8M588.2 471.5L760.3 526.8M485.0 416.1L519.4 388.4M519.4 443.8L553.8 416.1M450.6 471.5L657.1 416.1M450.6 526.8L622.7 554.5M553.8 499.1L622.7 554.5M553.8 609.9L691.5 443.8M450.6 526.8L553.8 609.9M622.7 471.5L691.5 554.5M519.4 582.2L588.2 582.2M588.2 582.2L622.7 554.5M553.8 416.1L760.3 360.7M691.5 443.8L725.9 471.5M657.1 388.4L691.5 416.1M519.4 499.1L553.8 526.8M485.0 554.5L553.8 499.1M691.5 416.1L760.3 388.4M657.1 471.5L691.5 499.1M725.9 499.1L725.9 471.5M553.8 526.8L691.5 582.2M657.1 499.1L725.9 526.8M657.1 499.1L691.5 582.2M588.2 582.2L588.2 526.8M519.4 443.8L691.5 416.1M588.2 526.8L622.7 526.8M588.2 471.5L691.5 499.1M553.8 388.4L657.1 443.8M485.0 416.1L553.8 388.4M519.4 609.9L519.4 554.5M485.0 526.8L657.1 554.5M485.0 416.1L519.4 443.8M519.4 526.8L553.8 526.8M725.9 499.1L760.3 388.4M725.9 416.1L760.3 471.5M553.8 443.8L657.1 526.8M622.7 554.5L691.5 526.8M691.5 471.5L725.9 499.1M450.6 471.5L553.8 582.2M588.2 526.8L588.2 499.1M553.8 388.4L588.2 471.5M553.8 499.1L725.9 526.8M622.7 526.8L622.7 471.5M622.7 416.1L725.9 416.1M588.2 499.1L657.1 526.8M725.9 443.8L760.3 526.8M553.8 360.7L622.7 499.1M657.1 416.1L657.1 388.4M450.6 471.5L588.2 499.1M622.7 471.5L760.3 471.5M588.2 554.5L691.5 582.2M519.4 471.5L519.4 443.8M553.8 526.8L760.3 526.8M588.2 416.1L622.7 499.1M450.6 499.1L519.4 471.5M691.5 609.9L725.9 554.5M588.2 388.4L657.1 471.5M691.5 526.8L691.5 499.1M485.0 554.5L622.7 388.4M450.6 471.5L485.0 554.5M553.8 471.5L760.3 554.5M657.1 471.5L691.5 443.8M553.8 609.9L553.8 416.1M553.8 554.5L691.5 609.9M622.7 526.8L657.1 471.5M691.5 526.8L760.3 499.1M622.7 582.2L691.5 526.8M450.6 526.8L553.8 499.1M450.6 526.8L519.4 554.5M553.8 471.5L657.1 526.8M519.4 499.1L657.1 416.1M588.2 582.2L622.7 443.8M691.5 443.8L725.9 360.7M588.2 499.1L725.9 443.8M519.4 554.5L553.8 554.5M622.7 388.4L760.3 388.4M725.9 526.8L725.9 360.7M657.1 443.8L691.5 443.8M691.5 526.8L760.3 554.5M657.1 554.5L760.3 526.8M657.1 582.2L657.1 471.5M622.7 526.8L725.9 526.8M622.7 443.8L657.1 582.2M622.7 582.2L657.1 443.8M725.9 360.7L760.3 388.4M450.6 471.5L553.8 471.5M622.7 471.5L691.5 499.1M691.5 499.1L725.9 471.5M553.8 499.1L691.5 471.5M760.3 416.1L760.3 388.4M519.4 499.1L588.2 499.1M553.8 582.2L588.2 609.9M519.4 360.7L553.8 360.7M519.4 554.5L588.2 526.8M725.9 499.1L760.3 443.8M622.7 526.8L725.9 582.2M622.7 443.8L622.7 388.4M622.7 416.1L657.1 499.1M519.4 443.8L622.7 388.4M657.1 609.9L725.9 582.2M519.4 443.8L553.8 443.8M450.6 471.5L519.4 582.2M588.2 582.2L725.9 499.1M450.6 360.7L519.4 499.1M519.4 499.1L725.9 526.8M553.8 416.1L657.1 471.5M553.8 388.4L588.2 416.1M622.7 443.8L725.9 499.1M588.2 499.1L657.1 471.5M657.1 443.8L657.1 416.1M553.8 443.8L588.2 499.1M622.7 443.8L657.1 526.8M588.2 443.8L588.2 416.1M657.1 499.1L657.1 443.8M553.8 526.8L622.7 499.1M588.2 526.8L725.9 471.5M519.4 499.1L519.4 471.5M450.6 443.8L588.2 499.1M553.8 471.5L553.8 416.1M657.1 582.2L725.9 582.2M622.7 471.5L691.5 443.8M657.1 554.5L657.1 526.8M622.7 443.8L691.5 443.8M622.7 499.1L760.3 499.1M553.8 582.2L760.3 416.1M657.1 526.8L691.5 526.8M588.2 471.5L622.7 526.8M622.7 554.5L622.7 443.8M553.8 609.9L553.8 471.5M553.8 554.5L725.9 499.1M553.8 499.1L622.7 499.1M725.9 388.4L760.3 471.5M657.1 526.8L657.1 388.4M622.7 609.9L622.7 526.8M553.8 388.4L622.7 388.4M760.3 554.5L760.3 526.8M553.8 554.5L657.1 526.8M691.5 443.8L725.9 416.1M588.2 554.5L622.7 499.1M519.4 471.5L588.2 443.8M657.1 443.8L691.5 388.4M725.9 554.5L760.3 526.8M553.8 554.5L691.5 443.8M519.4 443.8L588.2 471.5M588.2 443.8L725.9 499.1M485.0 554.5L485.0 360.7M657.1 471.5L760.3 443.8M553.8 443.8L622.7 416.1M588.2 443.8L760.3 416.1M519.4 443.8L519.4 388.4M519.4 499.1L691.5 471.5M622.7 499.1L657.1 609.9M553.8 416.1L760.3 499.1M657.1 499.1L725.9 554.5M553.8 416.1L622.7 416.1M588.2 526.8L657.1 499.1M519.4 526.8L657.1 554.5M553.8 609.9L657.1 609.9M450.6 526.8L485.0 526.8M691.5 582.2L725.9 554.5M553.8 526.8L760.3 471.5M553.8 443.8L760.3 554.5M450.6 471.5L622.7 554.5M450.6 443.8L588.2 388.4M553.8 416.1L588.2 388.4M553.8 582.2L588.2 554.5M657.1 582.2L691.5 526.8M450.6 443.8L760.3 554.5M450.6 526.8L519.4 443.8M485.0 554.5L485.0 416.1M553.8 416.1L760.3 554.5M691.5 526.8L725.9 526.8" stroke="#00bfbf" stroke-width="1.5" fill="none" stroke-linecap="round"/>
</g>
<rect x="434.90" y="348.20" width="340.70" height="274.20" fill="none" stroke="#111" stroke-width="1.0"/>
<path d="M434.90 622.40v4.3M434.90 622.40h-4.3M503.04 622.40v4.3M434.90 567.56h-4.3M571.18 622.40v4.3M434.90 512.72h-4.3M639.32 622.40v4.3M434.90 457.88h-4.3M707.46 622.40v4.3M434.90 403.04h-4.3M775.60 622.40v4.3M434.90 348.20h-4.3M450.59 622.40v4.3M434.90 609.94h-4.3M519.41 622.40v4.3M434.90 554.54h-4.3M588.24 622.40v4.3M434.90 499.15h-4.3M657.07 622.40v4.3M434.90 443.75h-4.3M725.90 622.40v4.3M434.90 388.36h-4.3" stroke="#000" stroke-width="0.9"/>
<text transform="translate(434.10,639.70) scale(0.93,1)" font-size="12.0" text-anchor="middle">0.0</text>
<text transform="translate(426.00,626.70) scale(0.93,1)" font-size="12.0" text-anchor="end">0.0</text>
<text transform="translate(502.24,639.70) scale(0.93,1)" font-size="12.0" text-anchor="middle">0.2</text>
<text transform="translate(426.00,571.86) scale(0.93,1)" font-size="12.0" text-anchor="end">0.2</text>
<text transform="translate(570.38,639.70) scale(0.93,1)" font-size="12.0" text-anchor="middle">0.4</text>
<text transform="translate(426.00,517.02) scale(0.93,1)" font-size="12.0" text-anchor="end">0.4</text>
<text transform="translate(638.52,639.70) scale(0.93,1)" font-size="12.0" text-anchor="middle">0.6</text>
<text transform="translate(426.00,462.18) scale(0.93,1)" font-size="12.0" text-anchor="end">0.6</text>
<text transform="translate(706.66,639.70) scale(0.93,1)" font-size="12.0" text-anchor="middle">0.8</text>
<text transform="translate(426.00,407.34) scale(0.93,1)" font-size="12.0" text-anchor="end">0.8</text>
<text transform="translate(774.80,639.70) scale(0.93,1)" font-size="12.0" text-anchor="middle">1.0</text>
<text transform="translate(426.00,352.50) scale(0.93,1)" font-size="12.0" text-anchor="end">1.0</text>
<text transform="translate(449.79,639.70) scale(0.93,1)" font-size="12.0" text-anchor="middle">0</text>
<text transform="translate(426.00,614.24) scale(0.93,1)" font-size="12.0" text-anchor="end">0</text>
<text transform="translate(518.61,639.70) scale(0.93,1)" font-size="12.0" text-anchor="middle">2</text>
<text transform="translate(426.00,558.84) scale(0.93,1)" font-size="12.0" text-anchor="end">2</text>
<text transform="translate(587.44,639.70) scale(0.93,1)" font-size="12.0" text-anchor="middle">4</text>
<text transform="translate(426.00,503.45) scale(0.93,1)" font-size="12.0" text-anchor="end">4</text>
<text transform="translate(656.27,639.70) scale(0.93,1)" font-size="12.0" text-anchor="middle">6</text>
<text transform="translate(426.00,448.05) scale(0.93,1)" font-size="12.0" text-anchor="end">6</text>
<text transform="translate(725.10,639.70) scale(0.93,1)" font-size="12.0" text-anchor="middle">8</text>
<text transform="translate(426.00,392.66) scale(0.93,1)" font-size="12.0" text-anchor="end">8</text>
<text x="605.05" y="341.60" font-size="14.7" text-anchor="middle" textLength="128.5" lengthAdjust="spacingAndGlyphs">Gamma (30-80 Hz)</text>
</svg></body></html>
